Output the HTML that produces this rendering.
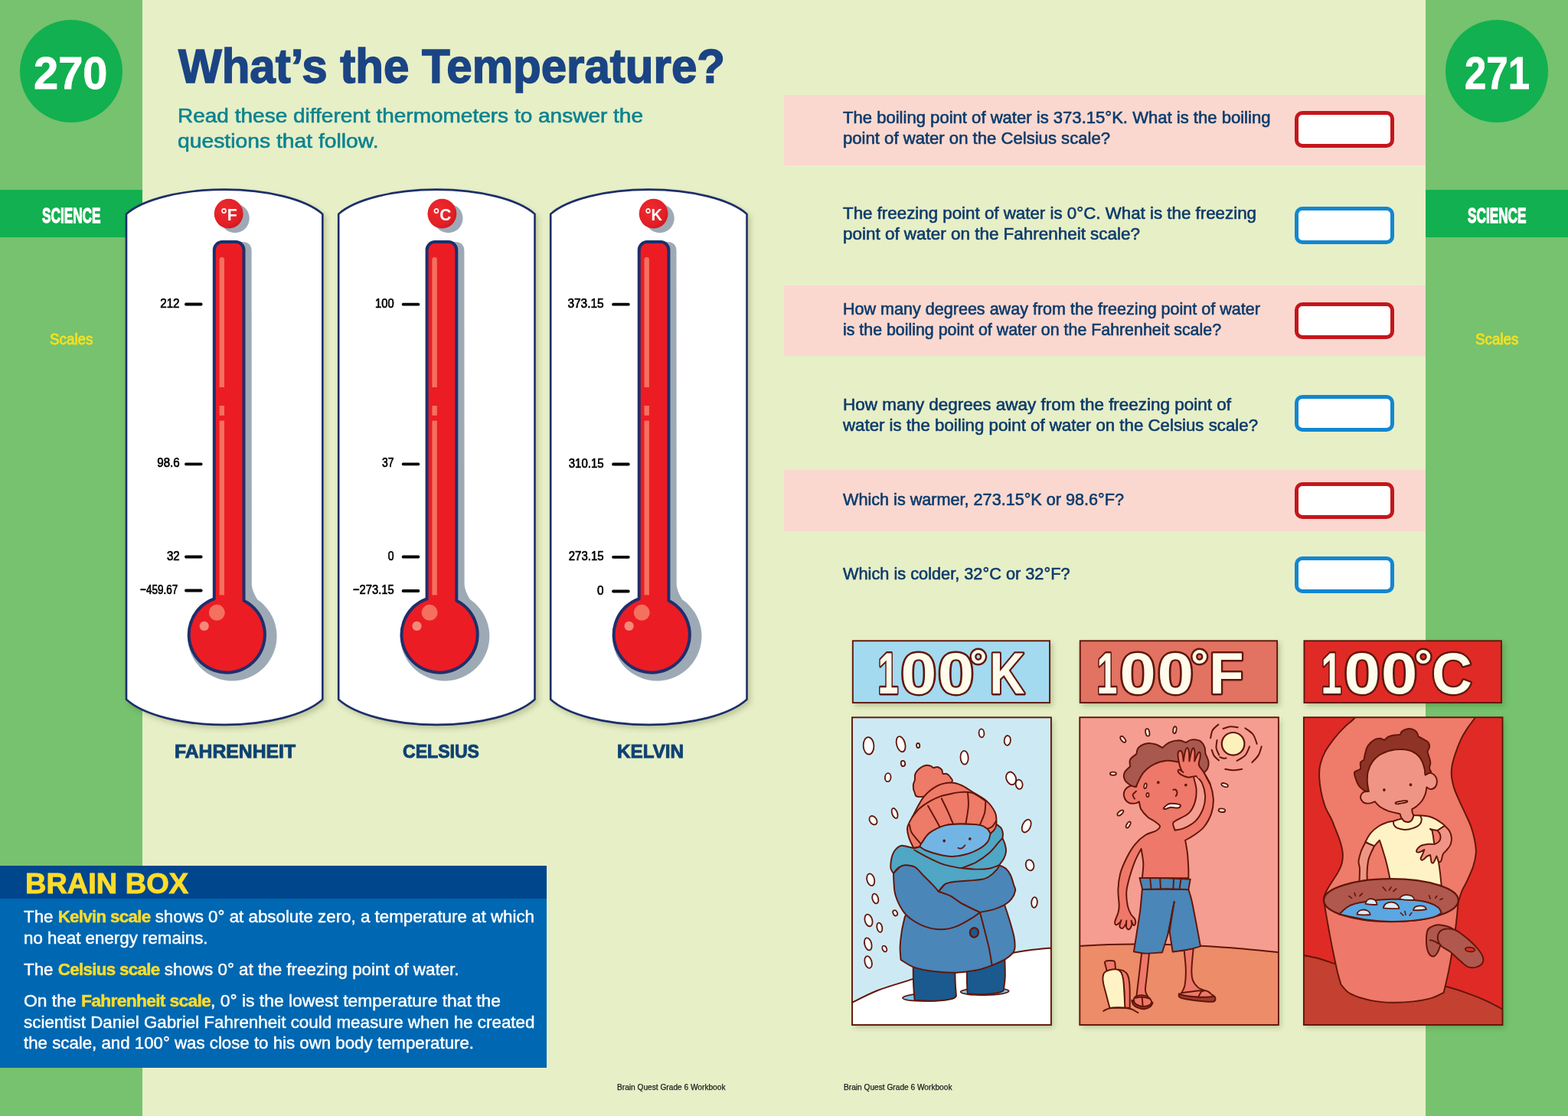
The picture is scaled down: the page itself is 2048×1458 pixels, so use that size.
<!DOCTYPE html>
<html lang="en"><head><meta charset="utf-8"><title>What’s the Temperature?</title>
<style>
html,body{margin:0;padding:0;background:#e7efc7;}
#page{position:relative;width:2048px;height:1458px;overflow:hidden;background:#e7efc7;font-family:"Liberation Sans",sans-serif;}
#page>*{position:absolute;}
.side{top:0;height:1458px;background:#76c26e;}
.band{top:248px;height:62px;background:#12b050;}
.pg{width:134px;height:134px;border-radius:50%;background:#12b050;}
.pink{left:1024px;width:838px;background:#fbd8cf;}
.ans{left:1691px;width:130.2px;box-sizing:border-box;border:5.2px solid;border-radius:10px;background:#fff;}
.ans.r{border-color:#c4161c;} .ans.b{border-color:#1187d1;}
.bbh{left:0;top:1131px;width:714px;height:43px;background:#00468c;}
.bbb{left:0;top:1174px;width:714px;height:221px;background:#0067b2;}
.t{margin:0;white-space:nowrap;transform-origin:0 0;}
.ln{display:block;transform-origin:0 0;}
svg#art{left:0;top:0;}
</style></head>
<body><div id="page">
<div class="side" style="left:0;width:186px"></div>
<div class="side" style="left:1862px;width:186px"></div>
<div class="band" style="left:0;width:186px"></div>
<div class="band" style="left:1862px;width:186px"></div>
<div class="pg" style="left:26px;top:26px"></div>
<div class="pg" style="left:1888px;top:26px"></div>
<div class="pink" style="top:124px;height:92px"></div>
<div class="pink" style="top:372.5px;height:92.5px"></div>
<div class="pink" style="top:614px;height:80px"></div>
<div class="ans r" style="top:144.5px;height:48.3px"></div>
<div class="ans b" style="top:270.1px;height:48.6px"></div>
<div class="ans r" style="top:394.6px;height:48.3px"></div>
<div class="ans b" style="top:515.5px;height:48.4px"></div>
<div class="ans r" style="top:629.6px;height:48.3px"></div>
<div class="ans b" style="top:726.6px;height:48.6px"></div>
<div class="bbh"></div><div class="bbb"></div>
<svg id="art" width="2048" height="1458" viewBox="0 0 2048 1458">
<defs>
<filter id="cardsh" x="-10%" y="-5%" width="125%" height="112%"><feDropShadow dx="3.5" dy="4" stdDeviation="3.2" flood-color="#323c00" flood-opacity=".22"/></filter>
<filter id="pansh" x="-10%" y="-10%" width="125%" height="125%"><feDropShadow dx="3" dy="3.5" stdDeviation="3" flood-color="#323c00" flood-opacity=".24"/></filter>
<radialGradient id="badge" cx=".38" cy=".35" r=".75"><stop offset="0" stop-color="#ee2a2e"/><stop offset=".7" stop-color="#e21f26"/><stop offset="1" stop-color="#c8161d"/></radialGradient>
</defs><path transform="translate(0,0)" d="M165,913.8 L165,279.6 A139.2,52.4 0 0 1 421.3,279.6 L421.3,913.8 A139.2,54.3 0 0 1 165,913.8 Z" fill="#fff" stroke="#1f2f6b" stroke-width="2.6" stroke-linejoin="round" filter="url(#cardsh)"/>
<g transform="translate(0,0)">
<circle cx="306.8" cy="285.2" r="19" fill="#9daab6"/>
<ellipse cx="298.7" cy="279.2" rx="18.9" ry="19.4" fill="url(#badge)"/>
<text x="298.9" y="288.3" font-size="22" font-weight="700" fill="#fff" text-anchor="middle" textLength="21.5" lengthAdjust="spacingAndGlyphs">°F</text>
<path d="M286,776 L286,327 Q286,316 298,316 L316,316 Q328.6,316 328.6,328 L328.8,764 Q329.3,772 336,783 A58.3 58.3 0 1 1 262,790 Z" fill="#9daab6"/>
<path d="M279.8,782.3 L279.8,326.5 A10.5,10.5 0 0 1 290.3,316 L308,316 A10.5,10.5 0 0 1 318.5,326.5 L318.5,784.7 A49.6 49.6 0 1 1 279.8,782.3 Z" fill="#ec1c24" stroke="#1f2f6b" stroke-width="4" stroke-linejoin="round"/>
<path d="M286.6,506 L286.6,339 Q286.6,336 289.8,336 Q293,336 293,339 L293,506 Z" fill="#f4705f"/>
<rect x="286.6" y="530" width="6.4" height="12.8" fill="#f4705f"/>
<rect x="286.6" y="549.6" width="6.4" height="227.8" fill="#f4705f"/>
<circle cx="283.3" cy="800.3" r="10.5" fill="#f4705f"/>
<circle cx="266.7" cy="817.9" r="6.1" fill="#f58a7b"/>
</g>
<rect x="241.1" y="395.6" width="23.4" height="3.8" rx="1.6" fill="#000"/>
<text x="234.6" y="401.5" font-size="17.3" font-weight="400" fill="#000" stroke="#000" stroke-width=".7" text-anchor="end" textLength="25.4" lengthAdjust="spacingAndGlyphs">212</text>
<rect x="241.1" y="604.4" width="23.4" height="3.8" rx="1.6" fill="#000"/>
<text x="234.6" y="610.3" font-size="17.3" font-weight="400" fill="#000" stroke="#000" stroke-width=".7" text-anchor="end" textLength="29.3" lengthAdjust="spacingAndGlyphs">98.6</text>
<rect x="241.1" y="725.6" width="23.4" height="3.8" rx="1.6" fill="#000"/>
<text x="234.6" y="731.5" font-size="17.3" font-weight="400" fill="#000" stroke="#000" stroke-width=".7" text-anchor="end" textLength="16.7" lengthAdjust="spacingAndGlyphs">32</text>
<rect x="241.1" y="769.6" width="23.4" height="3.8" rx="1.6" fill="#000"/>
<text x="232.29999999999998" y="775.5" font-size="17.3" font-weight="400" fill="#000" stroke="#000" stroke-width=".7" text-anchor="end" textLength="49.3" lengthAdjust="spacingAndGlyphs">−459.67</text><path transform="translate(277.2,0)" d="M165,913.8 L165,279.6 A139.2,52.4 0 0 1 421.3,279.6 L421.3,913.8 A139.2,54.3 0 0 1 165,913.8 Z" fill="#fff" stroke="#1f2f6b" stroke-width="2.6" stroke-linejoin="round" filter="url(#cardsh)"/>
<g transform="translate(277.8,0)">
<circle cx="307.7" cy="285.2" r="19" fill="#9daab6"/>
<ellipse cx="299.6" cy="279.2" rx="18.9" ry="19.4" fill="url(#badge)"/>
<text x="299.8" y="288.3" font-size="22" font-weight="700" fill="#fff" text-anchor="middle" textLength="23.5" lengthAdjust="spacingAndGlyphs">°C</text>
<path d="M286,776 L286,327 Q286,316 298,316 L316,316 Q328.6,316 328.6,328 L328.8,764 Q329.3,772 336,783 A58.3 58.3 0 1 1 262,790 Z" fill="#9daab6"/>
<path d="M279.8,782.3 L279.8,326.5 A10.5,10.5 0 0 1 290.3,316 L308,316 A10.5,10.5 0 0 1 318.5,326.5 L318.5,784.7 A49.6 49.6 0 1 1 279.8,782.3 Z" fill="#ec1c24" stroke="#1f2f6b" stroke-width="4" stroke-linejoin="round"/>
<path d="M286.6,506 L286.6,339 Q286.6,336 289.8,336 Q293,336 293,339 L293,506 Z" fill="#f4705f"/>
<rect x="286.6" y="530" width="6.4" height="12.8" fill="#f4705f"/>
<rect x="286.6" y="549.6" width="6.4" height="227.8" fill="#f4705f"/>
<circle cx="283.3" cy="800.3" r="10.5" fill="#f4705f"/>
<circle cx="266.7" cy="817.9" r="6.1" fill="#f58a7b"/>
</g>
<rect x="524.8" y="395.7" width="23.4" height="3.8" rx="1.6" fill="#000"/>
<text x="514.6" y="401.6" font-size="17.3" font-weight="400" fill="#000" stroke="#000" stroke-width=".7" text-anchor="end" textLength="24.6" lengthAdjust="spacingAndGlyphs">100</text>
<rect x="524.8" y="604.4" width="23.4" height="3.8" rx="1.6" fill="#000"/>
<text x="514.6" y="610.3" font-size="17.3" font-weight="400" fill="#000" stroke="#000" stroke-width=".7" text-anchor="end" textLength="15.5" lengthAdjust="spacingAndGlyphs">37</text>
<rect x="524.8" y="725.6" width="23.4" height="3.8" rx="1.6" fill="#000"/>
<text x="514.6" y="731.5" font-size="17.3" font-weight="400" fill="#000" stroke="#000" stroke-width=".7" text-anchor="end" textLength="7.8" lengthAdjust="spacingAndGlyphs">0</text>
<rect x="524.8" y="770.1" width="23.4" height="3.8" rx="1.6" fill="#000"/>
<text x="514.6" y="776.0" font-size="17.3" font-weight="400" fill="#000" stroke="#000" stroke-width=".7" text-anchor="end" textLength="53.6" lengthAdjust="spacingAndGlyphs">−273.15</text><path transform="translate(554.2,0)" d="M165,913.8 L165,279.6 A139.2,52.4 0 0 1 421.3,279.6 L421.3,913.8 A139.2,54.3 0 0 1 165,913.8 Z" fill="#fff" stroke="#1f2f6b" stroke-width="2.6" stroke-linejoin="round" filter="url(#cardsh)"/>
<g transform="translate(554.9,0)">
<circle cx="306.8" cy="285.2" r="19" fill="#9daab6"/>
<ellipse cx="298.7" cy="279.2" rx="18.9" ry="19.4" fill="url(#badge)"/>
<text x="298.9" y="288.3" font-size="22" font-weight="700" fill="#fff" text-anchor="middle" textLength="22.5" lengthAdjust="spacingAndGlyphs">°K</text>
<path d="M286,776 L286,327 Q286,316 298,316 L316,316 Q328.6,316 328.6,328 L328.8,764 Q329.3,772 336,783 A58.3 58.3 0 1 1 262,790 Z" fill="#9daab6"/>
<path d="M279.8,782.3 L279.8,326.5 A10.5,10.5 0 0 1 290.3,316 L308,316 A10.5,10.5 0 0 1 318.5,326.5 L318.5,784.7 A49.6 49.6 0 1 1 279.8,782.3 Z" fill="#ec1c24" stroke="#1f2f6b" stroke-width="4" stroke-linejoin="round"/>
<path d="M286.6,506 L286.6,339 Q286.6,336 289.8,336 Q293,336 293,339 L293,506 Z" fill="#f4705f"/>
<rect x="286.6" y="530" width="6.4" height="12.8" fill="#f4705f"/>
<rect x="286.6" y="549.6" width="6.4" height="227.8" fill="#f4705f"/>
<circle cx="283.3" cy="800.3" r="10.5" fill="#f4705f"/>
<circle cx="266.7" cy="817.9" r="6.1" fill="#f58a7b"/>
</g>
<rect x="799.2" y="395.7" width="23.4" height="3.8" rx="1.6" fill="#000"/>
<text x="788.6" y="401.6" font-size="17.3" font-weight="400" fill="#000" stroke="#000" stroke-width=".7" text-anchor="end" textLength="47.2" lengthAdjust="spacingAndGlyphs">373.15</text>
<rect x="799.2" y="604.6" width="23.4" height="3.8" rx="1.6" fill="#000"/>
<text x="788.6" y="610.5" font-size="17.3" font-weight="400" fill="#000" stroke="#000" stroke-width=".7" text-anchor="end" textLength="45.8" lengthAdjust="spacingAndGlyphs">310.15</text>
<rect x="799.2" y="725.9" width="23.4" height="3.8" rx="1.6" fill="#000"/>
<text x="788.6" y="731.8" font-size="17.3" font-weight="400" fill="#000" stroke="#000" stroke-width=".7" text-anchor="end" textLength="45.8" lengthAdjust="spacingAndGlyphs">273.15</text>
<rect x="799.2" y="770.6" width="23.4" height="3.8" rx="1.6" fill="#000"/>
<text x="788.6" y="776.5" font-size="17.3" font-weight="400" fill="#000" stroke="#000" stroke-width=".7" text-anchor="end" textLength="8.5" lengthAdjust="spacingAndGlyphs">0</text><rect x="1113.85" y="837.25" width="257.20" height="80.80" fill="#a3daf0" stroke="#611609" stroke-width="1.9" filter="url(#pansh)"/><text font-family="Liberation Sans, sans-serif" font-weight="700" fill="#fffcec" stroke="#611609" stroke-width="4.8" stroke-linejoin="round" paint-order="stroke"><tspan x="1146.5" y="905.8" font-size="75.5" textLength="26.9" lengthAdjust="spacingAndGlyphs">1</tspan><tspan x="1176.4" y="905.8" font-size="75.5" textLength="46.7" lengthAdjust="spacingAndGlyphs">0</tspan><tspan x="1225.0" y="905.8" font-size="75.5" textLength="47.2" lengthAdjust="spacingAndGlyphs">0</tspan><tspan x="1266.2" y="888.8" font-size="58" textLength="23.1" lengthAdjust="spacingAndGlyphs">°</tspan><tspan x="1292.4" y="906.3" font-size="75.5" textLength="46.0" lengthAdjust="spacingAndGlyphs">K</tspan></text><rect x="1410.75" y="837.25" width="257.40" height="80.80" fill="#e27262" stroke="#611609" stroke-width="1.9" filter="url(#pansh)"/><text font-family="Liberation Sans, sans-serif" font-weight="700" fill="#fffcec" stroke="#611609" stroke-width="4.8" stroke-linejoin="round" paint-order="stroke"><tspan x="1432.6" y="905.8" font-size="75.5" textLength="26.9" lengthAdjust="spacingAndGlyphs">1</tspan><tspan x="1462.6" y="905.8" font-size="75.5" textLength="47.2" lengthAdjust="spacingAndGlyphs">0</tspan><tspan x="1511.8" y="905.8" font-size="75.5" textLength="47.2" lengthAdjust="spacingAndGlyphs">0</tspan><tspan x="1555.0" y="888.8" font-size="58" textLength="23.5" lengthAdjust="spacingAndGlyphs">°</tspan><tspan x="1579.2" y="906.3" font-size="75.5" textLength="45.3" lengthAdjust="spacingAndGlyphs">F</tspan></text><rect x="1703.45" y="837.25" width="257.50" height="80.80" fill="#e02b27" stroke="#611609" stroke-width="1.9" filter="url(#pansh)"/><text font-family="Liberation Sans, sans-serif" font-weight="700" fill="#fffcec" stroke="#611609" stroke-width="4.8" stroke-linejoin="round" paint-order="stroke"><tspan x="1725.6" y="905.8" font-size="75.5" textLength="26.9" lengthAdjust="spacingAndGlyphs">1</tspan><tspan x="1755.5" y="905.8" font-size="75.5" textLength="47.3" lengthAdjust="spacingAndGlyphs">0</tspan><tspan x="1804.0" y="905.8" font-size="75.5" textLength="47.3" lengthAdjust="spacingAndGlyphs">0</tspan><tspan x="1847.2" y="888.8" font-size="58" textLength="23.6" lengthAdjust="spacingAndGlyphs">°</tspan><tspan x="1870.1" y="905.8" font-size="75.5" textLength="52.8" lengthAdjust="spacingAndGlyphs">C</tspan></text><defs><clipPath id="clip1"><rect x="1113.0" y="937.3" width="259.90" height="401.70"/></clipPath></defs><rect x="1113.0" y="937.3" width="259.90" height="401.70" fill="#cdeaf4" filter="url(#pansh)"/>
<g clip-path="url(#clip1)">
<path d="M1110.5,1311.2 C1116.4,1308.3 1132.4,1299.4 1146.2,1294 C1159.9,1288.7 1176.8,1284.2 1192.8,1278.9 C1208.8,1273.7 1227.1,1266.9 1242.2,1262.5 C1257.3,1258 1269.8,1255.2 1283.3,1252.2 C1296.8,1249.2 1312.8,1246.5 1323.1,1244.7 C1333.4,1242.8 1336.4,1242.3 1345.1,1241.2 C1353.7,1240.1 1370.2,1238.7 1375.2,1238.2 L1377.9,1344.0 L1108.0,1344.0 Z" fill="#fff" stroke="#611609" stroke-width="1.95" stroke-linejoin="round" stroke-linecap="round" />
<ellipse cx="1331.1" cy="1024.7" rx="4.5" ry="6.2" fill="#fff" stroke="#611609" stroke-width="1.8" transform="rotate(-10 1331.1 1024.7)"/>
<ellipse cx="1320.6" cy="1016.8" rx="6.2" ry="8.5" fill="#fff" stroke="#611609" stroke-width="1.8" transform="rotate(-20 1320.6 1016.8)"/>
<ellipse cx="1134.5" cy="974.3" rx="6.9" ry="11.2" fill="#fff" stroke="#611609" stroke-width="1.8" transform="rotate(-3 1134.5 974.3)"/>
<ellipse cx="1176.6" cy="972.2" rx="5.5" ry="10.3" fill="#fff" stroke="#611609" stroke-width="1.8" transform="rotate(-15 1176.6 972.2)"/>
<ellipse cx="1199.2" cy="974" rx="2.1" ry="3" fill="#fff" stroke="#611609" stroke-width="1.8" transform="rotate(-5 1199.2 974)"/>
<ellipse cx="1179.5" cy="997.5" rx="2.7" ry="3.7" fill="#fff" stroke="#611609" stroke-width="1.8" transform="rotate(-10 1179.5 997.5)"/>
<ellipse cx="1159.7" cy="1015.7" rx="3.8" ry="5.5" fill="#fff" stroke="#611609" stroke-width="1.8" transform="rotate(5 1159.7 1015.7)"/>
<ellipse cx="1282" cy="957.8" rx="3.4" ry="5.5" fill="#fff" stroke="#611609" stroke-width="1.8" transform="rotate(-5 1282 957.8)"/>
<ellipse cx="1315.8" cy="967.4" rx="4.1" ry="6.4" fill="#fff" stroke="#611609" stroke-width="1.8" transform="rotate(5 1315.8 967.4)"/>
<ellipse cx="1259.6" cy="989.7" rx="5.1" ry="8.9" fill="#fff" stroke="#611609" stroke-width="1.8" transform="rotate(-3 1259.6 989.7)"/>
<ellipse cx="1168.6" cy="1062.5" rx="3.4" ry="6.9" fill="#fff" stroke="#611609" stroke-width="1.8" transform="rotate(-20 1168.6 1062.5)"/>
<ellipse cx="1140.5" cy="1071.7" rx="4.4" ry="6.2" fill="#fff" stroke="#611609" stroke-width="1.8" transform="rotate(-35 1140.5 1071.7)"/>
<ellipse cx="1340.7" cy="1079.1" rx="5.2" ry="8.9" fill="#fff" stroke="#611609" stroke-width="1.8" transform="rotate(25 1340.7 1079.1)"/>
<ellipse cx="1345.1" cy="1130.3" rx="5.2" ry="7.1" fill="#fff" stroke="#611609" stroke-width="1.8" transform="rotate(-15 1345.1 1130.3)"/>
<ellipse cx="1351" cy="1179" rx="3.8" ry="6.9" fill="#fff" stroke="#611609" stroke-width="1.8" transform="rotate(5 1351 1179)"/>
<ellipse cx="1137.2" cy="1149.3" rx="4.8" ry="8" fill="#fff" stroke="#611609" stroke-width="1.8" transform="rotate(-15 1137.2 1149.3)"/>
<ellipse cx="1143.3" cy="1174" rx="3.8" ry="6.6" fill="#fff" stroke="#611609" stroke-width="1.8" transform="rotate(-15 1143.3 1174)"/>
<ellipse cx="1169.2" cy="1192.8" rx="2.7" ry="3.8" fill="#fff" stroke="#611609" stroke-width="1.8" transform="rotate(-25 1169.2 1192.8)"/>
<ellipse cx="1134.5" cy="1202.4" rx="4.8" ry="8" fill="#fff" stroke="#611609" stroke-width="1.8" transform="rotate(-15 1134.5 1202.4)"/>
<ellipse cx="1148.8" cy="1211.7" rx="3.4" ry="6.2" fill="#fff" stroke="#611609" stroke-width="1.8" transform="rotate(-12 1148.8 1211.7)"/>
<ellipse cx="1133.8" cy="1233.4" rx="4.5" ry="8.2" fill="#fff" stroke="#611609" stroke-width="1.8" transform="rotate(-15 1133.8 1233.4)"/>
<ellipse cx="1155.3" cy="1239.5" rx="2.7" ry="4.1" fill="#fff" stroke="#611609" stroke-width="1.8" transform="rotate(-25 1155.3 1239.5)"/>
<ellipse cx="1134.1" cy="1257" rx="4.5" ry="8" fill="#fff" stroke="#611609" stroke-width="1.8" transform="rotate(-15 1134.1 1257)"/>
<ellipse cx="1213.9" cy="1302.6" rx="35" ry="5.2" fill="#7cc6ec" stroke="#611609" stroke-width="1.8" transform="rotate(-2 1213.9 1302.6)"/>
<ellipse cx="1286.2" cy="1295.3" rx="31.5" ry="4.8" fill="#7cc6ec" stroke="#611609" stroke-width="1.8" transform="rotate(-1 1286.2 1295.3)"/>
<path d="M1192.7,1244.4 C1192.7,1250.9 1192.7,1273 1193,1283.4 C1193.4,1293.8 1194.3,1302.8 1194.6,1306.7 C1199,1306.9 1212.5,1308 1220.8,1307.7 C1229,1307.3 1239.5,1305.9 1244.2,1304.7 C1248.9,1303.5 1248.1,1301.2 1248.9,1300.5 C1248.7,1297.6 1248.1,1292.8 1247.7,1283.4 C1247.4,1274.1 1247.1,1250.9 1247,1244.4 C1237.9,1244.4 1201.7,1244.4 1192.7,1244.4 Z" fill="#1a5a8f" stroke="#611609" stroke-width="1.95" stroke-linejoin="round" stroke-linecap="round" />
<path d="M1262.6,1244.4 C1262.6,1250.9 1262.8,1274.5 1263,1283.4 C1263.2,1292.4 1263.6,1295.8 1263.8,1298.3 C1267,1298.4 1276.8,1299.4 1283.3,1299.2 C1289.8,1299.1 1298.3,1298.2 1302.8,1297.3 C1307.4,1296.5 1309.3,1294.9 1310.6,1294.4 C1311,1291.2 1312.6,1285.3 1312.8,1275.6 C1313,1266 1312,1243.1 1311.8,1236.6 C1303.6,1237.9 1270.8,1243.1 1262.6,1244.4 Z" fill="#1a5a8f" stroke="#611609" stroke-width="1.95" stroke-linejoin="round" stroke-linecap="round" />
<path d="M1181.8,1198 C1181.1,1201.2 1178.7,1210.5 1177.7,1217.2 C1176.7,1223.8 1175.8,1231.6 1175.6,1237.8 C1175.5,1243.9 1176.4,1251.2 1176.6,1253.9 C1179.5,1255.6 1186.7,1261.3 1194.2,1263.8 C1201.7,1266.4 1212.5,1268.2 1221.6,1269.3 C1230.7,1270.4 1239.9,1271 1249,1270.7 C1258.2,1270.3 1268.7,1268.8 1276.5,1267.2 C1284.2,1265.6 1289.5,1263.5 1295.7,1261.1 C1301.8,1258.7 1308.9,1255.6 1313.5,1252.8 C1318.1,1250.1 1321.8,1246 1323.5,1244.6 C1323.9,1243.5 1325.4,1241.2 1325.6,1237.8 C1325.7,1234.3 1325.6,1229.7 1324.5,1224 C1323.4,1218.3 1321,1210.4 1319,1203.5 C1316.9,1196.5 1313.3,1185.7 1312.1,1182.2 C1309.6,1178.9 1299.6,1165.6 1297,1162.3 C1281,1162.3 1217,1162.3 1201,1162.3 C1197.8,1168.2 1185,1192 1181.8,1198 Z" fill="#4a86b8" stroke="#611609" stroke-width="1.95" stroke-linejoin="round" stroke-linecap="round" />
<path d="M1279.9,1191.8 C1280.7,1194.9 1282.8,1202.7 1284.7,1210.3 C1286.6,1218 1289.7,1229.3 1291.6,1237.8 C1293.4,1246.2 1295,1257.2 1295.7,1261.1" fill="none" stroke="#611609" stroke-width="1.95" stroke-linejoin="round" stroke-linecap="round" />
<ellipse cx="1272.4" cy="1218.3" rx="5.5" ry="6.3" fill="#1a5a8f" stroke="#611609" stroke-width="2.2" transform="rotate(8 1272.4 1218.3)"/>
<path d="M1167,1140.9 C1167.1,1142.6 1167,1146.6 1167.4,1151.3 C1167.8,1156 1167.5,1162.8 1169.5,1169.2 C1171.4,1175.6 1175.6,1184.5 1179.1,1189.7 C1182.5,1195 1185.2,1197.3 1190,1200.7 C1194.8,1204.1 1201.5,1208.1 1207.9,1210.3 C1214.3,1212.6 1221.6,1214.2 1228.5,1214.2 C1235.3,1214.2 1242.2,1212.8 1249,1210.3 C1255.9,1207.8 1264.5,1202.4 1269.6,1199.3 C1274.8,1196.3 1278.2,1193.1 1279.9,1191.8 C1275.9,1189.9 1262.2,1183.7 1255.9,1180.1 C1249.6,1176.6 1247.2,1173.1 1242.2,1170.5 C1237.2,1167.9 1228.6,1165.6 1225.9,1164.6 C1223.7,1160.3 1214.9,1143.3 1212.7,1139.1 C1208.3,1136.2 1190.8,1124.5 1186.4,1121.5 C1183.1,1124.7 1170.3,1137.6 1167,1140.9 Z" fill="#4a86b8" stroke="#611609" stroke-width="1.95" stroke-linejoin="round" stroke-linecap="round" />
<path d="M1225.9,1164.6 C1229.6,1160.3 1244.2,1143.3 1247.9,1139.1 C1255.2,1137.6 1284.5,1131.8 1291.8,1130.3 C1294,1130.3 1302.8,1130.3 1305,1130.3 C1306.5,1131 1311.3,1132.5 1313.8,1134.7 C1316.3,1136.9 1318.2,1139.8 1320,1143.5 C1321.7,1147.2 1323.3,1153.3 1324.4,1156.7 C1325.4,1160 1326.7,1160.7 1326.1,1163.7 C1325.6,1166.7 1323.4,1171.6 1321,1174.7 C1318.7,1177.7 1316.1,1179.9 1312.1,1182.2 C1308.1,1184.5 1302.4,1186.8 1297,1188.4 C1291.7,1190 1282.8,1191.2 1279.9,1191.8 C1275.9,1189.9 1262.2,1183.6 1255.9,1180.1 C1249.6,1176.6 1247.2,1173.4 1242.2,1170.8 C1237.2,1168.2 1228.6,1165.6 1225.9,1164.6 Z" fill="#4a86b8" stroke="#611609" stroke-width="1.95" stroke-linejoin="round" stroke-linecap="round" />
<path d="M1201.3,1106.1 C1200,1106.4 1197.4,1108.1 1193.4,1107.9 C1189.4,1107.7 1181.7,1104.3 1177.6,1104.8 C1173.5,1105.3 1171,1108.2 1168.8,1111 C1166.6,1113.8 1165.3,1117.6 1164.4,1121.5 C1163.5,1125.5 1163.1,1131.5 1163.5,1134.7 C1164,1137.9 1166.4,1139.8 1167,1140.9 C1168.1,1139.7 1170.7,1135.6 1173.2,1133.8 C1175.7,1132.1 1178.3,1130.5 1182,1130.3 C1185.6,1130.2 1191.2,1130.8 1195.2,1132.9 C1199.1,1135.1 1202,1139.8 1205.7,1143.5 C1209.4,1147.2 1213.8,1151.4 1217.1,1154.9 C1220.5,1158.4 1224.5,1163 1225.9,1164.6 C1227.4,1163 1231,1157 1234.7,1154.9 C1238.4,1152.8 1242.8,1152.6 1247.9,1151.8 C1253,1151.1 1259.6,1151 1265.5,1150.5 C1271.3,1150 1278.7,1149.6 1283,1148.8 C1287.4,1147.9 1288.6,1147.4 1291.8,1145.3 C1295.1,1143.1 1300.2,1138.1 1302.4,1135.6 C1304.6,1133.1 1304.6,1131.2 1305,1130.3 C1306,1128.8 1309.7,1124.5 1311.2,1121.5 C1312.7,1118.6 1313.7,1115.7 1314,1112.7 C1314.3,1109.8 1313.7,1106.9 1312.9,1103.9 C1312.2,1101 1310,1096.6 1309.4,1095.2 C1309.5,1094.1 1310.1,1091.2 1309.9,1089 C1309.6,1086.8 1309.2,1084.1 1307.7,1082 C1306.1,1079.8 1301.8,1077.2 1300.6,1076.3 C1299.5,1078.4 1294.8,1086.9 1293.6,1089 C1278.2,1091.9 1216.7,1103.3 1201.3,1106.1 Z" fill="#4fa6c5" stroke="#611609" stroke-width="1.95" stroke-linejoin="round" stroke-linecap="round" />
<path d="M1194.3,1110.5 C1197.4,1112.2 1206.7,1117.6 1212.7,1120.6 C1218.7,1123.6 1224.5,1126.5 1230.3,1128.6 C1236.2,1130.6 1243.5,1132 1247.9,1132.9 C1252.3,1133.9 1252.3,1133.8 1256.7,1134.3 C1261.1,1134.7 1268.4,1135.5 1274.3,1135.6 C1280.1,1135.7 1286.9,1135.5 1291.8,1134.7 C1296.8,1133.9 1302.1,1131.4 1304.1,1130.8" fill="none" stroke="#611609" stroke-width="1.95" stroke-linejoin="round" stroke-linecap="round" />
<path d="M1256.7,1134 C1259.6,1132.8 1268.4,1130 1274.3,1126.8 C1280.1,1123.5 1286.7,1119 1291.8,1114.5 C1297,1110 1302.1,1102.8 1305,1099.6 C1307.9,1096.3 1308.7,1095.9 1309.4,1095.2" fill="none" stroke="#611609" stroke-width="1.95" stroke-linejoin="round" stroke-linecap="round" />
<path d="M1201,1041.1 C1194.2,1041.2 1196.1,1038 1194.4,1034.9 C1192.8,1031.9 1192.7,1029.2 1192.8,1026 C1192.9,1022.9 1194.3,1022.2 1194.8,1019.2 C1195.4,1016.1 1194.3,1014 1195.5,1010.9 C1196.8,1007.9 1198.4,1006.3 1201,1004.1 C1203.6,1001.9 1205.7,1000.6 1208.6,1000 C1211.4,999.3 1213.3,1000 1215.4,1000.6 C1217.5,1001.2 1217.3,1002.7 1219.1,1003 C1221,1003.3 1222.4,1001.5 1224.6,1002 C1226.8,1002.6 1228.7,1004 1230.1,1005.7 C1231.5,1007.4 1230.1,1009.6 1231.5,1010.7 C1232.8,1011.8 1234.9,1010.1 1237,1011.2 C1239,1012.3 1240.6,1014 1241.8,1016.1 C1242.9,1018.3 1245.5,1018.6 1242.9,1022.2 C1240.2,1025.8 1236.8,1030.5 1228.5,1034.3 C1220.1,1038 1207.8,1041 1201,1041.1 Z" fill="#ee7a68" stroke="#611609" stroke-width="1.95" stroke-linejoin="round" stroke-linecap="round" />
<path d="M1193.3,1107.9 C1192.3,1105.7 1188.7,1099.1 1187.3,1094.6 C1186,1090.1 1184.3,1085.8 1185.2,1080.9 C1186.2,1076 1189.2,1071.7 1192.8,1065.1 C1196.3,1058.5 1201.3,1047.5 1206.5,1041.1 C1211.8,1034.7 1218.4,1029.8 1224.3,1026.7 C1230.3,1023.6 1236.9,1022.7 1242.2,1022.6 C1247.4,1022.5 1251.3,1024.1 1255.9,1026 C1260.5,1028 1264.1,1030.8 1269.6,1034.3 C1275.1,1037.7 1283.8,1042 1288.8,1046.6 C1293.8,1051.2 1297.7,1056.7 1299.8,1061.7 C1301.9,1066.6 1301.5,1072.6 1301.4,1076.2 C1301.3,1079.9 1300.4,1081.5 1299.1,1083.6 C1297.8,1085.8 1294.5,1088.1 1293.6,1089 C1292.8,1087.9 1291.2,1084.1 1288.8,1082.3 C1286.4,1080.4 1284.7,1078.8 1279.2,1077.9 C1273.7,1076.9 1263.2,1076.5 1255.9,1076.5 C1248.6,1076.5 1242.2,1076.3 1235.3,1078.1 C1228.5,1080 1220,1083.9 1214.7,1087.8 C1209.5,1091.6 1206,1098.4 1203.8,1101.5 C1201.5,1104.5 1201.7,1105.4 1201.3,1106.1 C1200,1106.4 1194.7,1107.6 1193.3,1107.9 Z" fill="#ee7a68" stroke="#611609" stroke-width="1.95" stroke-linejoin="round" stroke-linecap="round" />
<path d="M1191.7,1067.2 C1193.2,1065.3 1197.2,1059.6 1201,1056.2 C1204.9,1052.8 1210.2,1049.2 1214.7,1046.6 C1219.3,1044 1223.9,1042 1228.5,1040.4 C1233,1038.8 1237.6,1037.9 1242.2,1037 C1246.7,1036.1 1251.3,1035.1 1255.9,1034.9 C1260.5,1034.8 1264.4,1034 1269.6,1035.9 C1274.9,1037.8 1284.5,1044.6 1287.4,1046.3" fill="none" stroke="#611609" stroke-width="1.95" stroke-linejoin="round" stroke-linecap="round" />
<path d="M1212,1052.8 C1213.4,1055.2 1217.6,1062.5 1220.2,1067.2 C1222.9,1071.9 1226.5,1078.6 1227.8,1080.9" fill="none" stroke="#611609" stroke-width="1.95" stroke-linejoin="round" stroke-linecap="round" />
<path d="M1229.8,1043.2 C1231.2,1046 1235.5,1054.8 1238.1,1060.3 C1240.6,1065.9 1243.8,1073.8 1244.9,1076.5" fill="none" stroke="#611609" stroke-width="1.95" stroke-linejoin="round" stroke-linecap="round" />
<path d="M1264.1,1036.3 C1264.2,1039.2 1265.3,1046.8 1264.8,1053.5 C1264.4,1060.1 1262,1072.3 1261.4,1076.1" fill="none" stroke="#611609" stroke-width="1.95" stroke-linejoin="round" stroke-linecap="round" />
<path d="M1287.4,1046.6 C1287.2,1049.1 1287.3,1056.5 1286.1,1061.7 C1284.8,1066.8 1280.9,1074.8 1279.9,1077.5" fill="none" stroke="#611609" stroke-width="1.95" stroke-linejoin="round" stroke-linecap="round" />
<path d="M1300.9,1072.7 C1300.1,1073.8 1298.1,1077.8 1296.4,1079.5 C1294.6,1081.2 1291.2,1082.4 1290.2,1082.9" fill="none" stroke="#611609" stroke-width="1.95" stroke-linejoin="round" stroke-linecap="round" />
<path d="M1188,1077.5 C1188.4,1079.2 1188.3,1083.6 1190.7,1087.8 C1193.1,1091.9 1200.5,1099.8 1202.4,1102.2" fill="none" stroke="#611609" stroke-width="1.95" stroke-linejoin="round" stroke-linecap="round" />
<path d="M1201.3,1106.1 C1201.7,1105.4 1201.5,1104.5 1203.8,1101.5 C1206,1098.4 1209.5,1091.6 1214.7,1087.8 C1220,1083.9 1228.5,1080 1235.3,1078.1 C1242.2,1076.3 1248.6,1076.5 1255.9,1076.5 C1263.2,1076.5 1273.7,1076.9 1279.2,1077.9 C1284.7,1078.8 1286.4,1080.4 1288.8,1082.3 C1291.2,1084.1 1292.8,1087.9 1293.6,1089 C1293,1090.7 1292.6,1096.2 1290.1,1099.6 C1287.6,1102.9 1283.5,1106.4 1278.7,1109.2 C1273.8,1112 1266.9,1114.6 1261.1,1116.2 C1255.2,1117.9 1249.4,1118.9 1243.5,1118.9 C1237.6,1118.9 1231.6,1117.6 1225.9,1116.2 C1220.2,1114.9 1213.3,1112.7 1209.2,1111 C1205.1,1109.3 1202.6,1106.9 1201.3,1106.1 Z" fill="#72b5e4" stroke="#611609" stroke-width="1.95" stroke-linejoin="round" stroke-linecap="round" />
<ellipse cx="1233.2" cy="1098.5" rx="1.8" ry="1.9" fill="#611609"/>
<ellipse cx="1266.8" cy="1095.9" rx="1.8" ry="1.9" fill="#611609"/>
<path d="M1251.4,1107.7 C1251.8,1107.9 1252.8,1108.4 1253.6,1108.5 C1254.4,1108.6 1255.4,1108.5 1256.2,1108.2 C1257.1,1107.8 1257.9,1107.1 1258.6,1106.4 C1259.3,1105.7 1260.1,1104.6 1260.4,1104.2" fill="none" stroke="#611609" stroke-width="1.8" stroke-linejoin="round" stroke-linecap="round" />
</g>
<rect x="1113.0" y="937.3" width="259.90" height="401.70" fill="none" stroke="#611609" stroke-width="1.9"/><defs><clipPath id="clip2"><rect x="1410.3" y="937.2" width="259.60" height="401.80"/></clipPath></defs><rect x="1410.3" y="937.2" width="259.60" height="401.80" fill="#f59d90" filter="url(#pansh)"/>
<g clip-path="url(#clip2)">
<path d="M1405.5,1236.1 C1412.6,1235.8 1435.2,1234.4 1448,1234 C1460.8,1233.5 1469.7,1233.4 1482.3,1233.4 C1494.9,1233.4 1509.1,1233.6 1523.5,1234 C1537.9,1234.3 1552.7,1234.9 1568.7,1235.7 C1584.7,1236.6 1602.1,1237.7 1619.5,1239.2 C1636.9,1240.6 1664.1,1243.5 1673,1244.4 L1674.9,1344.0 L1405.3,1344.0 Z" fill="#ec8c68" stroke="#611609" stroke-width="1.95" stroke-linejoin="round" stroke-linecap="round" />
<ellipse cx="1610.6" cy="971.8" rx="14.8" ry="14.8" fill="#fdf1bb" stroke="#611609" stroke-width="2.2"/>
<path d="M1591.4,946.5 C1590.1,947.7 1585.5,951 1583.8,954 C1582.1,957 1581.5,962.6 1581.1,964.3" fill="none" stroke="#611609" stroke-width="2.0" stroke-linejoin="round" stroke-linecap="round" />
<path d="M1597.5,951.9 C1599.1,951.5 1603.9,949.5 1607.1,949.2 C1610.3,948.9 1615.1,950.1 1616.7,950.3" fill="none" stroke="#611609" stroke-width="2.0" stroke-linejoin="round" stroke-linecap="round" />
<path d="M1626.3,951.3 C1628.1,952.6 1634.1,956.1 1636.6,959.5 C1639.2,962.9 1640.9,969.8 1641.7,971.8" fill="none" stroke="#611609" stroke-width="2.0" stroke-linejoin="round" stroke-linecap="round" />
<path d="M1589.6,967 C1589.4,968.8 1588.2,974.1 1588.6,977.3 C1589.1,980.6 1591.7,985 1592.3,986.5" fill="none" stroke="#611609" stroke-width="2.0" stroke-linejoin="round" stroke-linecap="round" />
<path d="M1582.7,979.7 C1583.2,981 1584.3,985.3 1585.9,987.6 C1587.4,989.9 1591,992.4 1592,993.4" fill="none" stroke="#611609" stroke-width="2.0" stroke-linejoin="round" stroke-linecap="round" />
<path d="M1632.1,975.3 C1631.1,977.2 1629.1,983.8 1626.3,986.9 C1623.6,990 1617.4,992.8 1615.6,993.9" fill="none" stroke="#611609" stroke-width="2.0" stroke-linejoin="round" stroke-linecap="round" />
<path d="M1647.7,975.3 C1647,977.2 1645.6,983.5 1643.5,986.9 C1641.4,990.4 1636.6,994.6 1635.3,996.1" fill="none" stroke="#611609" stroke-width="2.0" stroke-linejoin="round" stroke-linecap="round" />
<path d="M1600.3,1004.8 C1602.1,1005 1607.6,1006.3 1611.2,1006.3 C1614.9,1006.3 1620.4,1005 1622.2,1004.8" fill="none" stroke="#611609" stroke-width="2.0" stroke-linejoin="round" stroke-linecap="round" />
<path d="M1593.4,989 C1594.1,989.3 1596.2,990.4 1597.5,990.6 C1598.9,990.9 1601,990.4 1601.6,990.4" fill="none" stroke="#611609" stroke-width="2.0" stroke-linejoin="round" stroke-linecap="round" />
<ellipse cx="1466.8" cy="965.9" rx="2.3" ry="4.7" fill="#fff" stroke="#611609" stroke-width="1.9" transform="rotate(-38 1466.8 965.9)"/>
<ellipse cx="1498.8" cy="956.9" rx="2.5" ry="4.8" fill="#fff" stroke="#611609" stroke-width="1.9" transform="rotate(-10 1498.8 956.9)"/>
<ellipse cx="1534.4" cy="953.7" rx="2.1" ry="4.5" fill="#fff" stroke="#611609" stroke-width="1.9" transform="rotate(8 1534.4 953.7)"/>
<ellipse cx="1453.9" cy="1010.7" rx="4" ry="2.1" fill="#fff" stroke="#611609" stroke-width="1.9"/>
<ellipse cx="1463.4" cy="1062" rx="2.2" ry="4.7" fill="#fff" stroke="#611609" stroke-width="1.9" transform="rotate(50 1463.4 1062)"/>
<ellipse cx="1473.7" cy="1077.5" rx="2.1" ry="4.5" fill="#fff" stroke="#611609" stroke-width="1.9" transform="rotate(30 1473.7 1077.5)"/>
<ellipse cx="1599.6" cy="1025.7" rx="4.5" ry="2.1" fill="#fff" stroke="#611609" stroke-width="1.9" transform="rotate(20 1599.6 1025.7)"/>
<ellipse cx="1595.9" cy="1058.7" rx="4.3" ry="2.3" fill="#fff" stroke="#611609" stroke-width="1.9" transform="rotate(5 1595.9 1058.7)"/>
<path d="M1460.4,1266.6 C1461.5,1266.9 1465.2,1267.1 1467.2,1268.2 C1469.3,1269.4 1471.3,1270.3 1472.7,1273.5 C1474.1,1276.6 1474.9,1280 1475.4,1287.2 C1475.9,1294.4 1475.7,1311.8 1475.7,1316.7 C1474.6,1316.7 1470.3,1316.7 1469.3,1316.7 C1469,1311.8 1468.7,1294.8 1467.9,1287.2 C1467.1,1279.5 1465.7,1274.1 1464.5,1270.7 C1463.2,1267.3 1461,1267.3 1460.4,1266.6 Z" fill="#ee7869" stroke="#611609" stroke-width="1.95" stroke-linejoin="round" stroke-linecap="round" />
<path d="M1442.8,1257.3 C1443,1257.1 1444.1,1255.5 1445.3,1255.3 C1446.4,1255.2 1453.1,1255.2 1454.2,1255.3 C1455.3,1255.5 1456,1256.8 1456.2,1257 C1456.3,1258 1457,1265.6 1457.1,1266.6 C1455.9,1266.8 1446.7,1268.1 1445.5,1268.2 C1445.3,1267.1 1443.1,1258.4 1442.8,1257.3 Z" fill="#ee7869" stroke="#611609" stroke-width="1.95" stroke-linejoin="round" stroke-linecap="round" />
<path d="M1440.5,1276.9 C1440.7,1274.5 1441,1272.3 1442.5,1270.7 C1444,1269.1 1446.6,1268 1449.4,1267.3 C1452.1,1266.6 1456.5,1266 1459,1266.6 C1461.5,1267.2 1463.1,1268.4 1464.5,1270.7 C1465.8,1273 1466.5,1275.3 1467.2,1280.3 C1467.9,1285.3 1468.2,1294.8 1468.6,1300.9 C1468.9,1307 1469.2,1314 1469.3,1316.7 C1466,1316.7 1452.7,1316.7 1449.4,1316.7 C1448.7,1314 1446.6,1306.1 1445.3,1300.9 C1443.9,1295.6 1442,1289.1 1441.2,1285.1 C1440.4,1281.1 1440.2,1279.3 1440.5,1276.9 Z" fill="#fff3c6" stroke="#611609" stroke-width="1.95" stroke-linejoin="round" stroke-linecap="round" />
<path d="M1441.2,1320.8 C1442.3,1320.3 1444.6,1318.4 1448,1317.6 C1451.4,1316.9 1456.9,1316.2 1461.7,1316.3 C1466.5,1316.3 1472.7,1316.9 1476.8,1318 C1480.9,1319.2 1484.8,1322.3 1486.4,1323.1" fill="none" stroke="#611609" stroke-width="1.95" stroke-linejoin="round" stroke-linecap="round" />
<path d="M1491.2,1244.7 C1490.6,1249.5 1488.9,1264 1487.8,1273.5 C1486.6,1282.9 1484.9,1296.9 1484.4,1301.6 C1486.9,1301.7 1496.9,1302.1 1499.5,1302.3 C1498.9,1300.9 1496.3,1298.8 1496,1294 C1495.8,1289.2 1497.2,1281.7 1498.1,1273.5 C1498.9,1265.2 1500.6,1249.5 1501.1,1244.7 C1499.5,1244.7 1492.9,1244.7 1491.2,1244.7 Z" fill="#ee7869" stroke="#611609" stroke-width="1.95" stroke-linejoin="round" stroke-linecap="round" />
<path d="M1546.5,1240.5 C1546.9,1244.9 1548.7,1258.8 1548.8,1266.6 C1549,1274.4 1548.4,1282.1 1547.5,1287.2 C1546.5,1292.2 1544,1295.4 1543.3,1297.1 C1546.9,1297.7 1558,1300.3 1564.6,1300.9 C1571.2,1301.5 1580,1300.9 1583.1,1300.9 C1581.4,1299.7 1575.9,1295.9 1572.8,1294 C1569.8,1292.2 1567.1,1292.2 1564.6,1289.9 C1562.1,1287.6 1559.1,1284.2 1557.8,1280.3 C1556.4,1276.4 1556.2,1273.5 1556.4,1266.6 C1556.5,1259.7 1558.3,1243.7 1558.7,1239.2 C1556.7,1239.4 1548.5,1240.3 1546.5,1240.5 Z" fill="#ee7869" stroke="#611609" stroke-width="1.95" stroke-linejoin="round" stroke-linecap="round" />
<path d="M1478.5,1306.4 C1477.9,1306.5 1478.9,1310.8 1480.2,1312.6 C1481.6,1314.3 1484,1315.7 1486.4,1316.7 C1488.8,1317.6 1492,1318.4 1494.7,1318.2 C1497.3,1317.9 1500.4,1316.7 1502.2,1315.3 C1504,1313.9 1505.6,1310.3 1505.6,1309.8 C1505.6,1309.4 1504.3,1311.8 1502.2,1312.6 C1500.1,1313.4 1496.4,1314.7 1493.3,1314.6 C1490.2,1314.5 1486.1,1313.2 1483.7,1311.9 C1481.2,1310.5 1479,1306.3 1478.5,1306.4 Z" fill="#9e3b30" stroke="#611609" stroke-width="1.95" stroke-linejoin="round" stroke-linecap="round" />
<path d="M1480.9,1305.7 C1481.2,1303.9 1482.5,1302 1485,1301.2 C1487.6,1300.4 1492.9,1299.9 1496,1300.9 C1499.1,1301.9 1502.5,1305.1 1503.6,1307.1 C1504.6,1309 1503.9,1311.2 1502.2,1312.6 C1500.5,1313.9 1496.4,1315 1493.3,1314.9 C1490.2,1314.8 1485.7,1313.4 1483.7,1311.9 C1481.6,1310.3 1480.7,1307.5 1480.9,1305.7 Z" fill="#ee7869" stroke="#611609" stroke-width="1.95" stroke-linejoin="round" stroke-linecap="round" />
<path d="M1482,1303.9 C1483.7,1303.7 1488.5,1302.4 1491.9,1302.5 C1495.3,1302.7 1500.5,1304.4 1502.2,1304.7" fill="none" stroke="#611609" stroke-width="1.95" stroke-linejoin="round" stroke-linecap="round" />
<path d="M1491.6,1302.5 C1491.8,1304.4 1492.4,1312 1492.6,1313.9" fill="none" stroke="#611609" stroke-width="1.95" stroke-linejoin="round" stroke-linecap="round" />
<path d="M1539.9,1298.4 C1539.8,1299.2 1538.5,1302.4 1542.7,1303.9 C1546.8,1305.4 1557.8,1306.7 1564.6,1307.5 C1571.5,1308.3 1580,1309.1 1583.8,1308.7 C1587.6,1308.3 1587.3,1306.6 1587.4,1305.3 C1587.4,1304 1587.9,1301.3 1584.1,1300.9 C1580.3,1300.4 1571.4,1302.8 1564.6,1302.5 C1557.8,1302.3 1547.5,1300.2 1543.3,1299.5 C1539.2,1298.8 1540,1297.7 1539.9,1298.4 Z" fill="#9e3b30" stroke="#611609" stroke-width="1.95" stroke-linejoin="round" stroke-linecap="round" />
<path d="M1543.3,1297.1 C1548.3,1296.5 1566.3,1293.7 1572.8,1294 C1579.4,1294.4 1580.6,1297.9 1582.4,1299.2 C1584.3,1300.6 1587.1,1301.4 1584.1,1302 C1581.1,1302.5 1571.4,1302.9 1564.6,1302.5 C1557.8,1302.2 1546.9,1300.7 1543.3,1299.8 C1539.8,1298.9 1543.3,1297.5 1543.3,1297.1 Z" fill="#ee7869" stroke="#611609" stroke-width="1.95" stroke-linejoin="round" stroke-linecap="round" />
<path d="M1565.7,1301.6 C1566.3,1300.6 1567.6,1296.9 1569,1295.7 C1570.4,1294.4 1573.1,1294.3 1573.9,1294" fill="none" stroke="#611609" stroke-width="1.95" stroke-linejoin="round" stroke-linecap="round" />
<path d="M1485,1024.7 C1484.6,1027.3 1483.9,1027.5 1483.7,1028.1 C1482.5,1027.9 1479.2,1026 1476.8,1026.7 C1474.4,1027.4 1470.7,1029.8 1469.3,1032.2 C1467.9,1034.6 1467.5,1038.4 1468.3,1041.1 C1469.1,1043.9 1471.7,1047.2 1474.1,1048.7 C1476.4,1050.1 1480,1049.8 1482.3,1049.6 C1484.6,1049.4 1486.9,1047.7 1487.8,1047.3 C1488.2,1049 1488.7,1054.3 1490.5,1057.6 C1492.4,1060.9 1495.8,1064.5 1498.8,1067.2 C1501.7,1069.8 1505.7,1071.3 1508.4,1073.3 C1511.1,1075.4 1514.7,1077.2 1515,1079.2 C1515.2,1081.3 1512.9,1083.5 1509.7,1085.5 C1506.6,1087.4 1500.6,1088 1496,1091 C1491.4,1093.9 1486.4,1098.3 1482.3,1103.3 C1478.2,1108.3 1474.5,1114.8 1471.3,1121.2 C1468.1,1127.6 1464.9,1134.9 1463.1,1141.7 C1461.3,1148.6 1460.6,1155.4 1460.4,1162.3 C1460.1,1169.2 1461.7,1177.9 1461.7,1182.9 C1461.7,1187.9 1461.3,1188.9 1460.4,1192.5 C1459.4,1196 1456.7,1201.5 1456.2,1204.1 C1455.8,1206.8 1456.6,1208 1457.6,1208.3 C1458.6,1208.5 1461.3,1206.5 1462.4,1205.5 C1463.6,1204.5 1464.1,1202.7 1464.5,1202.1 C1464.1,1203.5 1462.1,1208.5 1462.4,1210.3 C1462.7,1212.1 1464.8,1213.2 1466.1,1212.8 C1467.4,1212.3 1469.4,1209.2 1470.2,1207.6 C1471.1,1205.9 1471.1,1203.6 1471.3,1202.8 C1471.3,1204.3 1470.7,1209.8 1471.3,1211.7 C1471.9,1213.6 1473.8,1214.7 1474.9,1214.2 C1476,1213.6 1477.7,1210.2 1478.2,1208.3 C1478.6,1206.4 1477.7,1203.7 1477.6,1202.8 C1478.1,1203.8 1479.7,1208.4 1480.7,1208.9 C1481.6,1209.5 1482.9,1207.6 1483.1,1206.2 C1483.4,1204.8 1483.4,1202.8 1482.3,1200.7 C1481.3,1198.7 1478.4,1196.8 1476.8,1193.9 C1475.2,1190.9 1473.6,1187.7 1472.7,1182.9 C1471.8,1178.1 1470.9,1171.2 1471.3,1165 C1471.8,1158.9 1473.6,1152.5 1475.4,1145.8 C1477.3,1139.2 1479.8,1131.4 1482.3,1125.3 C1484.8,1119.1 1489.2,1111.6 1490.5,1108.8 C1491,1112 1493,1121.6 1493.3,1128 C1493.5,1134.4 1492.1,1144 1491.9,1147.2 C1502,1147.2 1542.2,1147.2 1552.3,1147.2 C1552.3,1145.2 1552.5,1140.4 1552.3,1134.9 C1552,1129.4 1551.6,1120.5 1550.9,1114.3 C1550.2,1108.1 1548.6,1100.6 1548.1,1097.8 C1550,1096.7 1555.2,1094.1 1559.3,1091.2 C1563.3,1088.4 1568.6,1085.3 1572.4,1080.5 C1576.3,1075.7 1580.2,1068.6 1582.3,1062.4 C1584.4,1056.3 1585,1049.8 1584.8,1043.5 C1584.5,1037.2 1582.9,1030.5 1580.7,1024.6 C1578.5,1018.7 1573.6,1011.5 1571.6,1008.1 C1569.6,1004.7 1569.9,1006.1 1568.7,1004.1 C1567.6,1002 1568.7,999 1564.6,995.8 C1560.5,992.6 1552,986.5 1544,984.9 C1536,983.3 1524.6,984.4 1516.6,986.2 C1508.6,988.1 1501.1,991.5 1496,995.8 C1491,1000.2 1488.2,1007.5 1486.4,1012.3 C1484.6,1017.1 1485.5,1022 1485,1024.7 Z" fill="#ee7869" stroke="#611609" stroke-width="1.95" stroke-linejoin="round" stroke-linecap="round" />
<path d="M1559.3,1015.5 C1559.3,1018.4 1562.3,1025.8 1562.6,1031.2 C1562.8,1036.5 1562.6,1042.4 1560.9,1047.6 C1559.3,1052.8 1556.9,1058.3 1552.7,1062.4 C1548.4,1066.5 1538.8,1070 1535.4,1072.3 C1532,1074.6 1532.2,1074.4 1532.1,1076.4 C1532,1078.5 1534.2,1083.3 1534.6,1084.7 C1536.5,1084.2 1541.6,1084.2 1546.1,1082.2 C1550.6,1080.1 1557.5,1076.7 1561.7,1072.3 C1566,1067.9 1569.5,1061.3 1571.6,1055.8 C1573.7,1050.4 1574.3,1044.9 1574.1,1039.4 C1573.8,1033.9 1571.9,1027.2 1570,1022.9 C1568,1018.7 1563.8,1015.4 1562.6,1013.9 C1562,1014.1 1559.3,1012.6 1559.3,1015.5 Z" fill="#f59d90" stroke="#611609" stroke-width="1.95" stroke-linejoin="round" stroke-linecap="round" />
<path d="M1491.9,1161.6 C1491.4,1166.3 1490.3,1180.5 1489.2,1189.7 C1488,1199 1486.4,1208.3 1485,1217.2 C1483.7,1226.1 1481.6,1238.9 1480.9,1243.2 C1483.4,1243.6 1489.8,1245.4 1496,1245.6 C1502.2,1245.7 1514.3,1244.4 1518,1244.2 C1519.3,1239.7 1524,1226.3 1526.2,1217.2 C1528.4,1208.1 1530.2,1196.3 1531.4,1189.7 C1532.7,1183.2 1533.4,1180 1533.7,1178.1 C1533.1,1182.3 1530.7,1196.9 1529.6,1203.5 C1528.6,1210 1527.9,1214.9 1527.6,1217.2 C1528.3,1221.6 1531,1239.1 1531.7,1243.5 C1534.9,1243.1 1544.8,1242 1550.9,1240.8 C1557,1239.6 1565.2,1237.1 1568,1236.4 C1567,1230.9 1563.8,1213.5 1561.9,1203.5 C1559.9,1193.4 1558,1182.9 1556.4,1176 C1554.8,1169.1 1552.9,1164.2 1552.3,1161.9 C1542.2,1161.8 1502,1161.7 1491.9,1161.6 Z" fill="#4a86b8" stroke="#611609" stroke-width="1.95" stroke-linejoin="round" stroke-linecap="round" />
<path d="M1533.7,1178.1 C1533.4,1180 1532.7,1183.2 1531.4,1189.7 C1530.2,1196.3 1527.1,1212.6 1526.2,1217.2" fill="none" stroke="#611609" stroke-width="1.95" stroke-linejoin="round" stroke-linecap="round" />
<path d="M1488.5,1146.9 C1494.3,1147 1512.4,1146.9 1523.5,1147.2 C1534.5,1147.5 1549.5,1148.4 1554.7,1148.6 C1554.3,1150.9 1552.7,1160 1552.3,1162.3 C1547.5,1162.1 1533.5,1161.3 1523.5,1161.2 C1513.4,1161.1 1497.4,1161.8 1492.2,1161.9 C1491.6,1159.4 1489.1,1149.4 1488.5,1146.9 Z" fill="#4a86b8" stroke="#611609" stroke-width="1.95" stroke-linejoin="round" stroke-linecap="round" />
<path d="M1502.2,1147.5 C1502.4,1149.7 1503.3,1158.7 1503.6,1160.9" fill="none" stroke="#611609" stroke-width="1.95" stroke-linejoin="round" stroke-linecap="round" />
<path d="M1515.2,1147.5 C1515.3,1149.7 1515.8,1158.7 1515.9,1160.9" fill="none" stroke="#611609" stroke-width="1.95" stroke-linejoin="round" stroke-linecap="round" />
<path d="M1533.1,1147.5 C1532.9,1149.7 1532.5,1158.7 1532.4,1160.9" fill="none" stroke="#611609" stroke-width="1.95" stroke-linejoin="round" stroke-linecap="round" />
<path d="M1542.7,1147.5 C1542.3,1149.7 1540.9,1158.7 1540.6,1160.9" fill="none" stroke="#611609" stroke-width="1.95" stroke-linejoin="round" stroke-linecap="round" />
<path d="M1484,1033.6 C1483.2,1034.4 1479.9,1036.7 1479.6,1038.4 C1479.2,1040 1481.6,1042.7 1482,1043.6" fill="none" stroke="#611609" stroke-width="1.95" stroke-linejoin="round" stroke-linecap="round" />
<ellipse cx="1512.8" cy="1022.2" rx="1.8" ry="1.9" fill="#611609"/>
<ellipse cx="1548.8" cy="1025.6" rx="1.8" ry="1.9" fill="#611609"/>
<path d="M1532.4,1031.8 C1532.8,1031.7 1534.3,1031.1 1535.1,1031.5 C1535.9,1031.9 1536.8,1032.9 1537.2,1034 C1537.5,1035 1537.4,1036.7 1537.2,1037.7 C1536.9,1038.7 1536,1039.6 1535.8,1040" fill="none" stroke="#611609" stroke-width="2" stroke-linejoin="round" stroke-linecap="round" />
<path d="M1520,1055.5 C1520.9,1054.4 1524,1050.7 1527.6,1050 C1531.1,1049.3 1539.4,1050.5 1541.3,1051.4 C1543.2,1052.3 1540.9,1054.9 1538.8,1055.5 C1536.8,1056.1 1531.7,1054.6 1528.9,1054.8 C1526.2,1055.1 1523.6,1056.8 1522.1,1056.9 C1520.6,1057 1519.1,1056.7 1520,1055.5 Z" fill="#fff" stroke="#611609" stroke-width="2" stroke-linejoin="round" stroke-linecap="round" />
<ellipse cx="1496" cy="1026.7" rx="1.6" ry="3.4" fill="#fff" stroke="#611609" stroke-width="1.8" transform="rotate(12 1496 1026.7)"/>
<ellipse cx="1499" cy="1038.6" rx="1.6" ry="2.6" fill="#fff" stroke="#611609" stroke-width="1.8"/>
<path d="M1476.8,1026 C1474.4,1024.5 1470.6,1021.9 1469.3,1019.2 C1467.9,1016.4 1467.4,1012.5 1468.6,1009.6 C1469.7,1006.6 1474.9,1002.7 1476.1,1001.3 C1476.1,999.8 1474.8,995.2 1476.1,992.4 C1477.5,989.7 1483,986.1 1484.4,984.9 C1484.8,983.5 1484.8,978.9 1487.1,976.6 C1489.4,974.4 1494.3,971.8 1498.1,971.2 C1501.9,970.5 1506.4,971.6 1509.7,972.5 C1513.1,973.5 1516.8,976.2 1518.2,976.9 C1519.8,975.7 1524,971.4 1527.6,969.8 C1531.2,968.2 1536.4,967.3 1539.9,967.3 C1543.5,967.4 1547.3,969.6 1548.8,970.1 C1550.1,969.4 1553.4,966.7 1556.4,966.4 C1559.4,966 1563.9,966.2 1566.7,967.7 C1569.5,969.2 1571.8,972.4 1573.1,975.3 C1574.4,978.1 1574.3,983.3 1574.5,984.9 C1575.1,986.5 1577.9,991.3 1578.3,994.5 C1578.8,997.7 1578.5,1001.3 1577.2,1004.1 C1576,1006.8 1571.9,1009.8 1570.8,1010.9 C1569.8,1010.2 1567.9,1008.9 1564.6,1006.8 C1561.3,1004.8 1555.5,1000.5 1550.9,998.6 C1546.3,996.6 1541.7,996 1537.2,995.2 C1532.6,994.4 1528.5,993.2 1523.5,993.8 C1518.4,994.4 1512,996 1507,998.6 C1502,1001.2 1496.8,1005.4 1493.3,1009.6 C1489.7,1013.7 1487.3,1020.2 1485.7,1023.3 C1484.1,1026.4 1484,1027.3 1483.7,1028.1 C1482.5,1027.7 1479.2,1027.5 1476.8,1026 Z" fill="#a9584f" stroke="#611609" stroke-width="1.95" stroke-linejoin="round" stroke-linecap="round" />
<path d="M1562.6,1013.9 C1561.2,1013.4 1559.5,1014.4 1557.6,1014.6 C1555.7,1014.9 1553.5,1015.9 1551,1015.5 C1548.6,1015 1544.9,1013.4 1542.8,1012.2 C1540.7,1010.9 1539.1,1009.1 1538.7,1008.1 C1538.3,1007 1539.7,1006.2 1540.3,1005.6 C1541,1004.9 1542.7,1005.3 1542.7,1004.1 C1542.7,1002.8 1541,1001.4 1540.3,998.2 C1539.6,995 1538.4,987.8 1538.5,984.9 C1538.7,982 1540.3,980.9 1541.3,980.8 C1542.2,980.6 1543.6,982.6 1544.3,984.2 C1545,985.8 1545.1,990.7 1545.7,990.4 C1546.3,990 1547.1,984.4 1547.9,982.1 C1548.7,979.9 1549.8,976.9 1550.6,976.9 C1551.5,976.9 1552.5,979.9 1552.9,982.1 C1553.4,984.4 1552.8,990.4 1553.4,990.4 C1553.9,990.4 1555.3,984.3 1556.1,982.1 C1557,980 1557.7,977.3 1558.4,977.3 C1559.2,977.3 1560.2,979.7 1560.5,982.1 C1560.8,984.5 1559.9,991.3 1560.5,991.7 C1561.1,992.2 1563.2,986.4 1564.3,984.9 C1565.4,983.4 1566.5,982.1 1567.1,982.8 C1567.6,983.5 1567.9,986.4 1567.6,989 C1567.4,991.6 1565.5,996.1 1565.7,998.6 C1565.9,1001.1 1567.7,1002.5 1568.7,1004.1 C1569.7,1005.7 1571.1,1007.4 1571.6,1008.1 C1572.3,1009.2 1575,1013.6 1575.7,1014.7 C1574.1,1015.1 1567.5,1016.7 1565.8,1017.2 C1565.3,1016.6 1563.9,1014.3 1562.6,1013.9 Z" fill="#ee7869" stroke="none" stroke-width="0" stroke-linejoin="round" stroke-linecap="round" />
<path d="M1562.6,1013.9 C1561.7,1014 1559.5,1014.4 1557.6,1014.6 C1555.7,1014.9 1553.5,1015.9 1551,1015.5 C1548.6,1015 1544.9,1013.4 1542.8,1012.2 C1540.7,1010.9 1539.1,1009.1 1538.7,1008.1 C1538.3,1007 1539.2,1005.4 1540.3,1005.6 C1541.4,1005.7 1544.6,1008.3 1545.4,1008.9" fill="none" stroke="#611609" stroke-width="1.95" stroke-linejoin="round" stroke-linecap="round" />
<path d="M1543.3,1006.8 C1542.8,1005.4 1541.1,1001.8 1540.3,998.2 C1539.5,994.5 1538.4,987.8 1538.5,984.9 C1538.7,982 1540.3,980.9 1541.3,980.8 C1542.2,980.6 1543.6,981.9 1544.3,984.2 C1545,986.5 1545.5,992.8 1545.7,994.5 C1546,992.4 1547.1,985.1 1547.9,982.1 C1548.7,979.2 1549.8,976.9 1550.6,976.9 C1551.5,976.9 1552.5,979.2 1552.9,982.1 C1553.4,985.1 1553.3,992.4 1553.4,994.5 C1553.8,992.4 1555.3,985 1556.1,982.1 C1557,979.3 1557.7,977.3 1558.4,977.3 C1559.2,977.3 1560.2,979.3 1560.5,982.1 C1560.8,985 1560.3,992.4 1560.2,994.5 C1560.9,992.9 1563.2,986.8 1564.3,984.9 C1565.5,982.9 1566.5,982.1 1567.1,982.8 C1567.6,983.5 1567.9,986.4 1567.6,989 C1567.4,991.6 1565.5,996.1 1565.7,998.6 C1565.9,1001.1 1567.7,1002.5 1568.7,1004.1 C1569.7,1005.7 1569.6,1004.7 1571.6,1008.1 C1573.6,1011.5 1579.1,1021.8 1580.7,1024.6" fill="none" stroke="#611609" stroke-width="1.95" stroke-linejoin="round" stroke-linecap="round" />
</g>
<rect x="1410.3" y="937.2" width="259.60" height="401.80" fill="none" stroke="#611609" stroke-width="1.9"/><defs><clipPath id="clip3"><rect x="1702.9" y="937.2" width="259.60" height="401.80"/></clipPath></defs><rect x="1702.9" y="937.2" width="259.60" height="401.80" fill="#e02b27" filter="url(#pansh)"/>
<g clip-path="url(#clip3)">
<path d="M1780,921.8 C1778.3,924.4 1773.9,932.7 1769.8,937.5 C1765.6,942.3 1759.8,946.1 1755.4,950.6 C1750.9,955 1747.1,959 1743,964.3 C1738.9,969.6 1733.8,976.4 1730.7,982.1 C1727.6,987.8 1725.7,993.6 1724.5,998.6 C1723.2,1003.6 1723,1006.6 1723.1,1012.3 C1723.2,1018 1723.9,1026 1725.2,1032.9 C1726.4,1039.7 1728.4,1047.3 1730.7,1053.5 C1733,1059.6 1736.8,1065.5 1738.9,1069.9 C1741,1074.3 1741.2,1075.3 1743,1080 C1744.8,1084.7 1748.1,1092.1 1749.9,1097.8 C1751.7,1103.5 1753.3,1109.3 1753.7,1114.3 C1754.2,1119.3 1753.7,1123.7 1752.6,1128 C1751.5,1132.4 1749.6,1135.8 1747.1,1140.4 C1744.6,1144.9 1740.3,1150.9 1737.5,1155.4 C1734.8,1160 1732.2,1164.4 1730.7,1167.8 C1729.2,1171.2 1729,1174.7 1728.6,1176 C1758.1,1176 1876.1,1176 1905.6,1176 C1906.1,1174.2 1907.3,1169.2 1909,1165 C1910.7,1160.9 1913.3,1156.8 1915.9,1151.3 C1918.4,1145.8 1922.1,1138.3 1924.1,1132.1 C1926.1,1126 1927.4,1120 1927.8,1114.3 C1928.1,1108.6 1927.2,1103.5 1926.1,1097.8 C1925.1,1092.1 1923.3,1085.6 1921.3,1080 C1919.4,1074.4 1917,1070 1914.5,1064.4 C1912,1058.9 1908.8,1052.3 1906.2,1046.6 C1903.7,1040.9 1901.1,1035.4 1899.4,1030.1 C1897.7,1024.9 1896.5,1019.8 1896,1015 C1895.5,1010.2 1895.6,1006.4 1896.4,1001.3 C1897.2,996.3 1898.8,990.8 1900.8,984.9 C1902.8,978.9 1905.6,971.4 1908.3,965.7 C1911,959.9 1914.1,955.3 1917.2,950.6 C1920.3,945.9 1923.6,942.3 1926.8,937.5 C1930,932.7 1934.8,924.4 1936.4,921.8 C1910.4,921.8 1806.1,921.8 1780,921.8 Z" fill="#ef7b6a" stroke="#611609" stroke-width="1.95" stroke-linejoin="round" stroke-linecap="round" />
<path d="M1699.1,1247.4 C1703,1248.2 1714,1249.9 1722.4,1252.2 C1730.9,1254.5 1738.4,1257.6 1749.9,1261.1 C1761.3,1264.7 1777.3,1270.3 1791,1273.5 C1804.7,1276.7 1819.6,1278.5 1832.2,1280.3 C1844.7,1282.1 1856.8,1282.9 1866.5,1284.4 C1876.2,1285.9 1882.5,1287.2 1890.5,1289.2 C1898.5,1291.3 1905.9,1293.7 1914.5,1296.8 C1923.1,1299.9 1933,1303.6 1941.9,1307.8 C1950.8,1311.9 1963.6,1319.2 1968,1321.5 L1967.5,1344.0 L1697.9,1344.0 Z" fill="#c44030" stroke="#611609" stroke-width="1.95" stroke-linejoin="round" stroke-linecap="round" />
<path d="M1783.4,1100.4 C1782.5,1102.3 1779.4,1107.6 1777.9,1111.7 C1776.5,1115.9 1774.8,1121.6 1774.5,1125.4 C1774.2,1129.3 1775.8,1129.6 1775.9,1134.9 C1776.1,1140.1 1775.4,1153.2 1775.2,1156.8 C1777.1,1156.8 1784.4,1156.8 1786.2,1156.8 C1786.1,1154.3 1785.4,1147 1785.5,1141.7 C1785.6,1136.5 1786.1,1129.9 1786.9,1125.4 C1787.7,1121 1788.9,1118.5 1790.3,1115.2 C1791.7,1111.8 1794.3,1106.9 1795.1,1105.2 C1793.1,1104.4 1785.4,1101.2 1783.4,1100.4 Z" fill="#f09585" stroke="#611609" stroke-width="1.95" stroke-linejoin="round" stroke-linecap="round" />
<path d="M1820.5,1072.6 C1818.9,1073 1814.2,1073.5 1810.9,1074.7 C1807.5,1075.8 1804,1077.2 1800.6,1079.5 C1797.1,1081.8 1793.1,1085 1790.3,1088.4 C1787.4,1091.8 1784.6,1097.8 1783.4,1099.7 C1784.3,1100.2 1787,1101.8 1788.9,1102.7 C1790.9,1103.6 1794.2,1104.8 1795.2,1105.2 C1795.8,1104.6 1797.4,1102.7 1798.5,1101.4 C1799.6,1100.2 1801.4,1098.3 1801.9,1097.7 C1802.5,1099.4 1804.1,1104.2 1805.4,1108.3 C1806.6,1112.4 1808.2,1117.4 1809.5,1122 C1810.7,1126.6 1812,1131.7 1812.9,1135.7 C1813.8,1139.7 1814.4,1142.5 1815,1146 C1815.6,1149.5 1816.2,1155 1816.4,1156.8 C1827.4,1156.8 1871.6,1156.8 1882.7,1156.8 C1882.3,1153.9 1881.5,1144.4 1880.8,1139.2 C1880.2,1133.9 1879.6,1130 1878.8,1125.4 C1878,1120.9 1876.9,1115.6 1876,1111.7 C1875.1,1107.8 1874,1105.3 1873.3,1102.1 C1872.6,1098.9 1872.4,1095.4 1871.9,1092.5 C1871.4,1089.7 1870.8,1086.2 1870.5,1085 C1870.1,1084.6 1868.2,1083.3 1867.8,1082.9 C1868.6,1083.2 1871,1084 1872.6,1084.3 C1874.2,1084.6 1876.6,1084.9 1877.4,1085 C1878.2,1084.5 1880.6,1083.3 1882.2,1082.2 C1883.8,1081.2 1886.2,1079.4 1887,1078.8 C1886.7,1078.5 1886.8,1078.1 1884.9,1076.7 C1883.1,1075.4 1879.2,1072.3 1876,1070.6 C1872.8,1068.9 1869.3,1067.3 1865.7,1066.5 C1862.2,1065.6 1856.6,1065.6 1854.8,1065.4 C1849,1066.6 1826.2,1071.4 1820.5,1072.6 Z" fill="#fff3c6" stroke="#611609" stroke-width="1.95" stroke-linejoin="round" stroke-linecap="round" />
<path d="M1887,1078.8 C1888,1079.9 1891.7,1083 1893.2,1085.7 C1894.7,1088.3 1895.7,1091.6 1895.9,1094.6 C1896.1,1097.6 1895.6,1100.9 1894.5,1103.5 C1893.5,1106.1 1891.2,1108.5 1889.7,1110.4 C1888.3,1112.2 1886.6,1113.1 1885.6,1114.5 C1884.7,1115.8 1884.3,1117.2 1883.9,1118.6 C1883.5,1120 1883.4,1121.6 1883,1122.7 C1882.7,1123.8 1882.3,1124.7 1881.9,1125.3 C1881.4,1125.9 1880.8,1126.3 1880.3,1126.3 C1879.8,1126.3 1879.2,1126 1878.8,1125.3 C1878.3,1124.6 1878.1,1123.2 1877.7,1122 C1877.3,1120.9 1876.6,1119 1876.4,1118.4 C1876.2,1118.8 1875.9,1119.8 1875.5,1120.6 C1875.1,1121.5 1874.6,1122.7 1874.1,1123.7 C1873.6,1124.7 1873,1126 1872.5,1126.7 C1871.9,1127.3 1871.4,1127.7 1870.9,1127.6 C1870.4,1127.6 1869.9,1127.2 1869.6,1126.3 C1869.2,1125.3 1869.1,1123.6 1868.9,1122 C1868.6,1120.5 1868.3,1117.7 1868.1,1116.9 C1867.4,1117.2 1865.4,1117.7 1864,1118.6 C1862.7,1119.5 1861.2,1121.3 1860.1,1122.2 C1859,1123 1858.3,1123.5 1857.6,1123.7 C1856.9,1123.8 1856.2,1123.3 1855.9,1122.8 C1855.5,1122.4 1855.4,1121.9 1855.7,1120.8 C1856.1,1119.6 1857.3,1117.8 1858.1,1116 C1858.8,1114.2 1860,1111.1 1860.4,1110.1 C1859.6,1110.5 1857.2,1112 1855.8,1112.6 C1854.3,1113.1 1852.6,1113.7 1851.7,1113.6 C1850.7,1113.6 1850.1,1112.8 1850,1112.1 C1849.8,1111.4 1850.4,1110.4 1851,1109.5 C1851.6,1108.6 1852.6,1107.5 1853.7,1106.6 C1854.8,1105.7 1855.5,1104.8 1857.5,1104.2 C1859.5,1103.6 1863,1103.1 1865.7,1102.8 C1868.5,1102.6 1871.7,1103.2 1874,1102.7 C1876.3,1102.1 1878.2,1100.7 1879.5,1099.4 C1880.7,1098 1881.3,1096.2 1881.5,1094.6 C1881.7,1093 1881.5,1091.4 1880.8,1089.8 C1880.1,1088.2 1878,1085.8 1877.4,1085 C1879,1084 1885.4,1079.8 1887,1078.8 Z" fill="#f09585" stroke="#611609" stroke-width="1.95" stroke-linejoin="round" stroke-linecap="round" />
<path d="M1787.6,1033.8 C1786.6,1034 1783.1,1033.8 1781.4,1034.7 C1779.7,1035.6 1778,1037.5 1777.4,1039.2 C1776.8,1040.8 1777,1042.9 1777.8,1044.5 C1778.7,1046.2 1780.4,1048.2 1782.3,1049 C1784.2,1049.8 1787.2,1049.7 1789.4,1049.4 C1791.7,1049.1 1794.6,1047.6 1795.7,1047.2 C1796.9,1048.4 1799.8,1052.3 1802.8,1054.3 C1805.8,1056.4 1810.2,1058.4 1813.5,1059.7 C1816.8,1060.9 1819.9,1061.3 1822.4,1061.9 C1824.9,1062.5 1827.6,1063.2 1828.7,1063.4 C1828.9,1064.1 1829.6,1066.7 1830,1067.7 C1830.4,1068.7 1830.9,1069.2 1831.1,1069.5 C1831.6,1070.1 1833,1072.2 1834.2,1073 C1835.3,1073.7 1836.7,1073.9 1838,1074 C1839.2,1074.1 1840.6,1073.9 1841.7,1073.3 C1842.9,1072.7 1844,1071.6 1844.8,1070.2 C1845.6,1068.9 1846.1,1065.9 1846.4,1065.1 C1846.1,1064.5 1845.1,1062.8 1844.7,1061.5 C1844.4,1060.1 1844.3,1057.8 1844.3,1057 C1845.2,1056.4 1847.9,1055.2 1850.1,1053.4 C1852.2,1051.7 1855.3,1049 1857.2,1046.3 C1859.1,1043.6 1860.6,1040.4 1861.7,1037.4 C1862.7,1034.4 1863.1,1030 1863.4,1028.5 C1864.3,1028.9 1866.9,1031.3 1868.8,1031.1 C1870.7,1031 1873.7,1029.5 1875,1027.6 C1876.4,1025.6 1877.1,1022.1 1876.8,1019.6 C1876.5,1017 1874.9,1014.1 1873.3,1012.4 C1871.6,1010.8 1868.9,1009.7 1867,1009.7 C1865.1,1009.7 1862.6,1012 1861.7,1012.4 C1861.1,1009.4 1861.7,1000.2 1858.1,994.6 C1854.5,988.9 1847.7,981.2 1840.3,978.5 C1832.8,975.9 1821.7,975.9 1813.5,978.5 C1805.3,981.2 1796,988.2 1791.2,994.6 C1786.5,1001 1785.6,1010.3 1785,1016.9 C1784.4,1023.4 1787.2,1031 1787.6,1033.8 Z" fill="#f09585" stroke="#611609" stroke-width="1.95" stroke-linejoin="round" stroke-linecap="round" />
<path d="M1831.1,1069.5 C1831.6,1070.1 1833,1072.2 1834.2,1073 C1835.3,1073.7 1836.7,1073.9 1838,1074 C1839.2,1074.1 1840.6,1073.9 1841.7,1073.3 C1842.9,1072.7 1844,1071.6 1844.8,1070.2 C1845.6,1068.9 1846.1,1065.9 1846.4,1065.1 C1847.8,1065.1 1853.4,1065.4 1854.8,1065.4 C1855.1,1066.3 1856.9,1068.6 1856.8,1070.6 C1856.7,1072.6 1856,1075.5 1854.1,1077.4 C1852.1,1079.4 1848.4,1081.1 1845.2,1082.2 C1842,1083.3 1838.3,1084.1 1834.9,1084 C1831.4,1083.8 1827,1082.6 1824.6,1081.6 C1822.2,1080.5 1821.2,1078.9 1820.5,1077.4 C1819.7,1075.9 1820.2,1073.4 1820.1,1072.6 C1821.2,1072.3 1825.6,1070.9 1826.6,1070.6 C1827.4,1070.4 1830.4,1069.7 1831.1,1069.5 Z" fill="#fff3c6" stroke="#611609" stroke-width="1.95" stroke-linejoin="round" stroke-linecap="round" />
<ellipse cx="1807.9" cy="1031.9" rx="1.8" ry="2" fill="#611609"/>
<ellipse cx="1842.5" cy="1025.2" rx="1.8" ry="2" fill="#611609"/>
<path d="M1822.9,1048.5 C1823.8,1047.9 1827.3,1047.2 1829.6,1046.8 C1831.9,1046.3 1835.3,1045.7 1836.7,1045.9 C1838.1,1046 1838.8,1047.1 1837.8,1047.6 C1836.7,1048.2 1832.7,1049 1830.4,1049.4 C1828.2,1049.9 1825.5,1050.6 1824.2,1050.4 C1822.9,1050.3 1822,1049.1 1822.9,1048.5 Z" fill="#f9c4b8" stroke="#611609" stroke-width="1.9" stroke-linejoin="round" stroke-linecap="round" />
<path d="M1787.6,1033.8 C1786.8,1033.7 1784.5,1034.3 1782.3,1032.9 C1780.1,1031.6 1776.5,1029.5 1774.3,1025.8 C1772,1022.1 1769.4,1013.8 1768.9,1010.6 C1768.5,1007.5 1771.1,1007.7 1771.6,1007.1 C1772.5,1006.6 1776.1,1006.2 1776.9,1004.4 C1777.8,1002.6 1776.2,998.3 1776.9,996.4 C1777.7,994.4 1780.7,993.4 1781.4,992.8 C1781.7,991.3 1782.3,987 1783.2,983.9 C1784.1,980.8 1784.7,977 1786.8,974.1 C1788.8,971.1 1793,967.6 1795.7,966.1 C1798.3,964.5 1800.7,964.6 1802.8,964.7 C1804.9,964.9 1807.3,966.6 1808.2,966.9 C1809,966.2 1811.1,963.6 1813.5,962.5 C1815.9,961.4 1819.9,960.7 1822.4,960.3 C1824.9,959.8 1827.6,959.9 1828.7,959.8 C1829.1,959.1 1829.7,956.6 1831.3,955.4 C1833,954.1 1836.2,952.7 1838.5,952.2 C1840.7,951.8 1842.8,952 1844.7,952.7 C1846.6,953.3 1848.7,954.6 1850.1,956.2 C1851.4,957.9 1852.3,961.4 1852.7,962.5 C1853.6,962.9 1856,964 1858.1,965.2 C1860.2,966.3 1863.7,967.8 1865.2,969.6 C1866.7,971.4 1867.2,973.8 1867,975.9 C1866.9,977.9 1864.8,981.1 1864.3,982.1 C1864.6,983 1865.4,985.1 1866.1,987.5 C1866.8,989.8 1868.2,993.7 1868.3,996.4 C1868.5,999 1866.9,1001.5 1867,1003.5 C1867.2,1005.5 1868.9,1007.6 1869.2,1008.4 C1868.9,1008.6 1868.3,1009.1 1867,1009.7 C1865.7,1010.4 1862.6,1012 1861.7,1012.4 C1861.5,1011.2 1861.4,1008 1860.8,1005.3 C1860.2,1002.6 1859.4,999.3 1858.1,996.4 C1856.8,993.4 1855.7,990.1 1852.7,987.5 C1849.8,984.8 1845.3,981.7 1840.3,980.3 C1835.2,979 1828.4,978.7 1822.4,979.4 C1816.5,980.2 1809.5,982.3 1804.6,984.8 C1799.7,987.3 1796,990.7 1793,994.6 C1790,998.5 1787.9,1003.5 1786.8,1008 C1785.6,1012.4 1785.7,1017 1785.9,1021.3 C1786,1025.6 1787.3,1031.7 1787.6,1033.8 Z" fill="#8e3326" stroke="#611609" stroke-width="1.95" stroke-linejoin="round" stroke-linecap="round" />
<path d="M1729,1175.4 C1729.8,1179.8 1731.5,1191.5 1733.4,1202.1 C1735.3,1212.8 1738,1227.7 1740.3,1239.2 C1742.6,1250.6 1745.3,1262.9 1747.1,1270.7 C1749,1278.5 1750.8,1283.5 1751.5,1286.1 C1753.5,1288.1 1757,1294.7 1763.6,1298.1 C1770.2,1301.6 1781.9,1305.1 1791,1307.1 C1800.2,1309 1809.3,1309.6 1818.5,1309.8 C1827.6,1310 1837.2,1309.5 1845.9,1308.4 C1854.6,1307.4 1864,1305.6 1870.6,1303.6 C1877.2,1301.7 1883.2,1297.9 1885.7,1296.8 C1886.8,1291.7 1890.2,1278.5 1892.5,1266.6 C1894.8,1254.7 1897.7,1236.9 1899.4,1225.4 C1901.1,1214 1901.9,1206.3 1902.8,1198 C1903.7,1189.7 1904.5,1179.5 1904.9,1175.8 C1875.6,1175.7 1758.3,1175.4 1729,1175.4 Z" fill="#ee7869" stroke="#611609" stroke-width="1.95" stroke-linejoin="round" stroke-linecap="round" />
<ellipse cx="1816.9" cy="1176.2" rx="87.9" ry="28" fill="#b0584e" stroke="#611609" stroke-width="2.3"/>
<path d="M1749.2,1194.6 C1751.6,1192.6 1756.6,1185.9 1763.6,1182.9 C1770.6,1179.9 1781.9,1178.1 1791,1176.7 C1800.2,1175.4 1809.3,1174.9 1818.5,1174.7 C1827.6,1174.5 1837.9,1175 1845.9,1175.8 C1853.9,1176.6 1861,1177.8 1866.5,1179.5 C1872,1181.1 1876.1,1183.5 1878.8,1185.7 C1881.5,1187.8 1882,1191.4 1882.7,1192.5 C1881.1,1193.4 1879.5,1196.3 1873.3,1198 C1867.2,1199.7 1855.5,1201.8 1845.9,1202.8 C1836.3,1203.8 1826,1204.1 1815.7,1203.9 C1805.4,1203.7 1793.3,1202.6 1784.2,1201.4 C1775,1200.3 1766.7,1198.1 1760.8,1196.9 C1755,1195.8 1751.1,1195 1749.2,1194.6 Z" fill="#5ba7e1" stroke="#611609" stroke-width="2.0" stroke-linejoin="round" stroke-linecap="round" />
<path d="M1783.5,1180.9 C1784.5,1171.9 1797.6,1171.9 1798.6,1181.8 Q1791,1182.5 1783.5,1180.9 Z" fill="#d8ecf7" stroke="#611609" stroke-width="1.8" stroke-linejoin="round" stroke-linecap="round" />
<path d="M1806.8,1186.4 C1807.8,1176.1 1826.4,1176.1 1827.4,1186.8 Q1817.1,1187.8 1806.8,1186.4 Z" fill="#d8ecf7" stroke="#611609" stroke-width="1.8" stroke-linejoin="round" stroke-linecap="round" />
<path d="M1828.1,1174.7 C1829.1,1167.1 1846.3,1167.1 1847.3,1175.7 Q1837.7,1176.4 1828.1,1174.7 Z" fill="#d8ecf7" stroke="#611609" stroke-width="1.8" stroke-linejoin="round" stroke-linecap="round" />
<path d="M1845.9,1189.1 C1846.9,1181.6 1862,1181.6 1863,1188 Q1854.5,1189.7 1845.9,1189.1 Z" fill="#d8ecf7" stroke="#611609" stroke-width="1.8" stroke-linejoin="round" stroke-linecap="round" />
<path d="M1772.5,1194.6 C1773.5,1186.4 1788.7,1186.4 1789.7,1195 Q1781.1,1196 1772.5,1194.6 Z" fill="#d8ecf7" stroke="#611609" stroke-width="1.8" stroke-linejoin="round" stroke-linecap="round" />
<path d="M1761.5,1170.6 C1762.2,1171 1765,1172.9 1765.6,1173.3" fill="none" stroke="#611609" stroke-width="1.6" stroke-linejoin="round" stroke-linecap="round" />
<path d="M1769.1,1166.5 C1769.3,1167.1 1770.2,1169.9 1770.4,1170.6" fill="none" stroke="#611609" stroke-width="1.6" stroke-linejoin="round" stroke-linecap="round" />
<path d="M1779.4,1167.1 C1778.8,1167.7 1776.5,1170 1775.9,1170.6" fill="none" stroke="#611609" stroke-width="1.6" stroke-linejoin="round" stroke-linecap="round" />
<path d="M1806.1,1158.9 C1806.8,1159.7 1809.5,1162.9 1810.2,1163.7" fill="none" stroke="#611609" stroke-width="1.6" stroke-linejoin="round" stroke-linecap="round" />
<path d="M1814.3,1163 C1814.8,1162.3 1816.6,1159.6 1817.1,1158.9" fill="none" stroke="#611609" stroke-width="1.6" stroke-linejoin="round" stroke-linecap="round" />
<path d="M1819.8,1164.4 C1820.5,1163.8 1823.3,1161.5 1823.9,1161" fill="none" stroke="#611609" stroke-width="1.6" stroke-linejoin="round" stroke-linecap="round" />
<path d="M1866.5,1169.9 C1866.7,1170.6 1867.8,1173.3 1868.1,1174" fill="none" stroke="#611609" stroke-width="1.6" stroke-linejoin="round" stroke-linecap="round" />
<path d="M1874.7,1173.3 C1875,1172.9 1876.4,1171 1876.8,1170.6" fill="none" stroke="#611609" stroke-width="1.6" stroke-linejoin="round" stroke-linecap="round" />
<path d="M1880.9,1175.4 C1881.4,1175.1 1883.7,1174.2 1884.3,1174" fill="none" stroke="#611609" stroke-width="1.6" stroke-linejoin="round" stroke-linecap="round" />
<path d="M1829.4,1192.5 C1830,1193.1 1832.3,1195.4 1832.9,1196" fill="none" stroke="#611609" stroke-width="1.6" stroke-linejoin="round" stroke-linecap="round" />
<path d="M1834.9,1190.5 C1835.1,1191.3 1835.8,1194.5 1836,1195.3" fill="none" stroke="#611609" stroke-width="1.6" stroke-linejoin="round" stroke-linecap="round" />
<path d="M1843.8,1192.5 C1843.4,1193.1 1841.5,1195.4 1841.1,1196" fill="none" stroke="#611609" stroke-width="1.6" stroke-linejoin="round" stroke-linecap="round" />
<path d="M1863,1232.3 C1862.8,1227.5 1863.2,1219.5 1864.4,1215.8 C1865.7,1212.2 1868.2,1211.6 1870.6,1210.4 C1873,1209.1 1875.2,1208.2 1878.8,1208.3 C1882.5,1208.4 1889.1,1210 1892.5,1211 C1896,1212.1 1898.2,1214.1 1899.4,1214.7 C1897.3,1215.8 1890.1,1217.7 1887,1221.3 C1884,1224.9 1882.5,1232.5 1880.9,1236.4 C1879.3,1240.3 1878.9,1242.5 1877.4,1244.7 C1876,1246.8 1873.9,1249.5 1872,1249.5 C1870,1249.5 1867.3,1247.5 1865.8,1244.7 C1864.3,1241.8 1863.3,1237.1 1863,1232.3 Z" fill="#b0584e" stroke="#611609" stroke-width="1.95" stroke-linejoin="round" stroke-linecap="round" />
<path d="M1878.1,1228.2 C1877.6,1225.2 1878,1221 1879.5,1218.6 C1881,1216.2 1883.5,1214.4 1887,1213.8 C1890.6,1213.2 1895.7,1213 1900.8,1215.2 C1905.8,1217.3 1912.2,1222.6 1917.2,1226.8 C1922.3,1231 1927.6,1236.4 1930.9,1240.5 C1934.3,1244.7 1936.4,1248.3 1937.1,1251.5 C1937.8,1254.7 1936.8,1257.7 1935.1,1259.7 C1933.3,1261.8 1929.8,1263.3 1926.8,1263.9 C1923.9,1264.4 1920.4,1264.5 1917.2,1263.2 C1914,1261.8 1911.5,1258.9 1907.6,1255.6 C1903.7,1252.3 1898,1246.5 1893.9,1243.3 C1889.8,1240.1 1885.6,1238.9 1882.9,1236.4 C1880.3,1233.9 1878.7,1231.2 1878.1,1228.2 Z" fill="#b0584e" stroke="#611609" stroke-width="1.95" stroke-linejoin="round" stroke-linecap="round" />
<path d="M1867.8,1228.2 C1868.8,1228.4 1871.5,1228.8 1873.3,1229.6 C1875.2,1230.4 1877.9,1232.4 1878.8,1233" fill="none" stroke="#611609" stroke-width="1.95" stroke-linejoin="round" stroke-linecap="round" />
<ellipse cx="1920" cy="1240.5" rx="6.2" ry="2.9" fill="#e02b27" stroke="#611609" stroke-width="1.8" transform="rotate(6 1920 1240.5)"/>
</g>
<rect x="1702.9" y="937.2" width="259.60" height="401.80" fill="none" stroke="#611609" stroke-width="1.9"/>
</svg>
<div class="t" style="left:44.3px;top:66.80px;font-size:59px;line-height:59px;font-weight:700;color:#fff;-webkit-text-stroke-width:0.8px;transform:scaleX(0.9802);">270</div>
<div class="t" style="left:1913.1px;top:66.80px;font-size:59px;line-height:59px;font-weight:700;color:#fff;-webkit-text-stroke-width:0.8px;transform:scaleX(0.8634);">271</div>
<div class="t" style="left:54.8px;top:267.05px;font-size:28.5px;line-height:28.5px;font-weight:700;color:#fff;-webkit-text-stroke-width:1.3px;transform:scaleX(0.6038);">SCIENCE</div>
<div class="t" style="left:1916.8px;top:267.05px;font-size:28.5px;line-height:28.5px;font-weight:700;color:#fff;-webkit-text-stroke-width:1.3px;transform:scaleX(0.6038);">SCIENCE</div>
<div class="t" style="left:65.0px;top:432.50px;font-size:20.6px;line-height:20.6px;font-weight:400;color:#f5e022;-webkit-text-stroke-width:0.8px;transform:scaleX(0.9141);">Scales</div>
<div class="t" style="left:1926.8px;top:432.50px;font-size:20.6px;line-height:20.6px;font-weight:400;color:#f5e022;-webkit-text-stroke-width:0.8px;transform:scaleX(0.9141);">Scales</div>
<h1 class="t" style="left:232.6px;top:54.60px;font-size:63.4px;line-height:63.4px;font-weight:700;color:#1b4484;-webkit-text-stroke-width:1.6px;transform:scaleX(0.9472);">What’s the Temperature?</h1>
<p class="t" style="left:231.5px;top:134.95px;font-size:25.8px;line-height:32.7px;font-weight:400;color:#0c8390;-webkit-text-stroke-width:0.6px;"><span class="ln" style="transform:scaleX(1.0853)">Read these different thermometers to answer the</span> <span class="ln" style="transform:scaleX(1.0960)">questions that follow.</span></p>
<p class="t" style="left:1101.0px;top:140.15px;font-size:21.7px;line-height:27.3px;font-weight:400;color:#0d3b6b;-webkit-text-stroke-width:0.6px;"><span class="ln" style="transform:scaleX(1.0177)">The boiling point of water is 373.15°K. What is the boiling</span> <span class="ln" style="transform:scaleX(1.0194)">point of water on the Celsius scale?</span></p>
<p class="t" style="left:1101.0px;top:265.15px;font-size:21.7px;line-height:27.3px;font-weight:400;color:#0d3b6b;-webkit-text-stroke-width:0.6px;"><span class="ln" style="transform:scaleX(1.0293)">The freezing point of water is 0°C. What is the freezing</span> <span class="ln" style="transform:scaleX(1.0348)">point of water on the Fahrenheit scale?</span></p>
<p class="t" style="left:1101.0px;top:390.15px;font-size:21.7px;line-height:27.3px;font-weight:400;color:#0d3b6b;-webkit-text-stroke-width:0.6px;"><span class="ln" style="transform:scaleX(0.9936)">How many degrees away from the freezing point of water</span> <span class="ln" style="transform:scaleX(0.9850)">is the boiling point of water on the Fahrenheit scale?</span></p>
<p class="t" style="left:1101.0px;top:515.15px;font-size:21.7px;line-height:27.3px;font-weight:400;color:#0d3b6b;-webkit-text-stroke-width:0.6px;"><span class="ln" style="transform:scaleX(1.0359)">How many degrees away from the freezing point of</span> <span class="ln" style="transform:scaleX(1.0265)">water is the boiling point of water on the Celsius scale?</span></p>
<p class="t" style="left:1101.0px;top:639.15px;font-size:21.7px;line-height:27.3px;font-weight:400;color:#0d3b6b;-webkit-text-stroke-width:0.6px;"><span class="ln" style="transform:scaleX(0.9969)">Which is warmer, 273.15°K or 98.6°F?</span></p>
<p class="t" style="left:1101.0px;top:736.15px;font-size:21.7px;line-height:27.3px;font-weight:400;color:#0d3b6b;-webkit-text-stroke-width:0.6px;"><span class="ln" style="transform:scaleX(1.0024)">Which is colder, 32°C or 32°F?</span></p>
<div class="t" style="left:227.7px;top:969.90px;font-size:23.8px;line-height:23.8px;font-weight:700;color:#0e4271;-webkit-text-stroke-width:0.9px;transform:scaleX(1.0392);">FAHRENHEIT</div>
<div class="t" style="left:526.3px;top:969.90px;font-size:23.8px;line-height:23.8px;font-weight:700;color:#0e4271;-webkit-text-stroke-width:0.9px;transform:scaleX(0.9696);">CELSIUS</div>
<div class="t" style="left:805.5px;top:969.90px;font-size:23.8px;line-height:23.8px;font-weight:700;color:#0e4271;-webkit-text-stroke-width:0.9px;transform:scaleX(1.0175);">KELVIN</div>
<h2 class="t" style="left:32.5px;top:1135.70px;font-size:37.2px;line-height:37.2px;font-weight:700;color:#ffdc2a;-webkit-text-stroke-width:1.0px;transform:scaleX(1.0207);">BRAIN BOX</h2>
<p class="t" style="left:31.0px;top:1184.05px;font-size:22.6px;line-height:27.5px;font-weight:400;color:#fff;-webkit-text-stroke-width:0.45px;"><span class="ln" style="transform:scaleX(0.9880)">The <b style="color:#ffdc2a;letter-spacing:-0.7px">Kelvin scale</b> shows 0° at absolute zero, a temperature at which</span> <span class="ln" style="transform:scaleX(0.9870)">no heat energy remains.</span></p>
<p class="t" style="left:31.0px;top:1253.05px;font-size:22.6px;line-height:27.5px;font-weight:400;color:#fff;-webkit-text-stroke-width:0.45px;"><span class="ln" style="transform:scaleX(0.9906)">The <b style="color:#ffdc2a;letter-spacing:-0.7px">Celsius scale</b> shows 0° at the freezing point of water.</span></p>
<p class="t" style="left:31.0px;top:1294.05px;font-size:22.6px;line-height:27.5px;font-weight:400;color:#fff;-webkit-text-stroke-width:0.45px;"><span class="ln" style="transform:scaleX(1.0118)">On the <b style="color:#ffdc2a;letter-spacing:-0.7px">Fahrenheit scale</b>, 0° is the lowest temperature that the</span> <span class="ln" style="transform:scaleX(0.9916)">scientist Daniel Gabriel Fahrenheit could measure when he created</span> <span class="ln" style="transform:scaleX(0.9852)">the scale, and 100° was close to his own body temperature.</span></p>
<div class="t" style="left:805.5px;top:1415.05px;font-size:10.5px;line-height:10.5px;font-weight:400;color:#1a1a1a;-webkit-text-stroke-width:0.25px;transform:scaleX(0.9672);">Brain Quest Grade 6 Workbook</div>
<div class="t" style="left:1101.8px;top:1415.05px;font-size:10.5px;line-height:10.5px;font-weight:400;color:#1a1a1a;-webkit-text-stroke-width:0.25px;transform:scaleX(0.9672);">Brain Quest Grade 6 Workbook</div>
</div></body></html>
